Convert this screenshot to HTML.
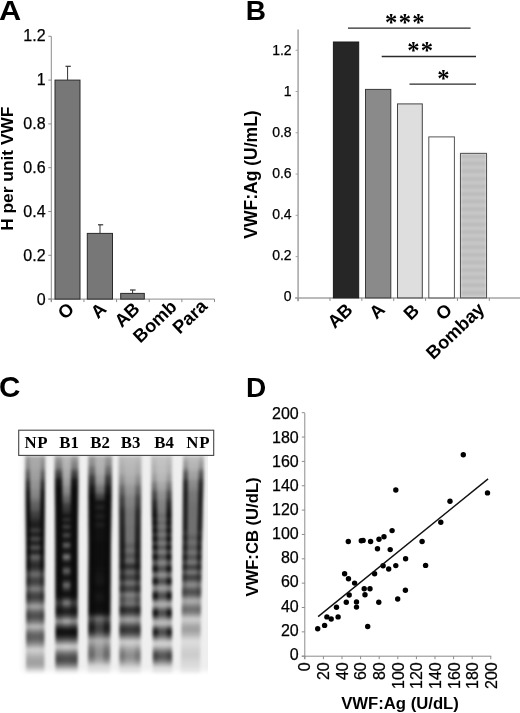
<!DOCTYPE html>
<html><head><meta charset="utf-8"><title>Figure</title>
<style>html,body{margin:0;padding:0;background:#fff}body{width:520px;height:713px;overflow:hidden;font-family:"Liberation Sans",sans-serif}svg{display:block;will-change:transform}</style>
</head><body>
<svg width="520" height="713" viewBox="0 0 520 713">
<rect width="520" height="713" fill="#fff"/>
<text x="-0.9" y="19.8" font-family="Liberation Sans, sans-serif" font-size="28" font-weight="bold" textLength="22.2" lengthAdjust="spacingAndGlyphs" fill="#000" >A</text>
<text x="245.7" y="19.8" font-family="Liberation Sans, sans-serif" font-size="28" font-weight="bold" fill="#000" >B</text>
<text x="-1.0" y="396.9" font-family="Liberation Sans, sans-serif" font-size="29.6" font-weight="bold" fill="#000" >C</text>
<text x="245.9" y="396.7" font-family="Liberation Sans, sans-serif" font-size="28" font-weight="bold" fill="#000" >D</text>
<line x1="51.3" y1="36.3" x2="51.3" y2="302.1" stroke="#8c8c8c" stroke-width="1" />
<line x1="48.3" y1="299.1" x2="214.5" y2="299.1" stroke="#8c8c8c" stroke-width="1" />
<line x1="48.3" y1="299.1" x2="51.3" y2="299.1" stroke="#8c8c8c" stroke-width="1" />
<text x="45.6" y="305.1" font-family="Liberation Sans, sans-serif" font-size="16" text-anchor="end" fill="#000" stroke="#000" stroke-width="0.25">0</text>
<line x1="48.3" y1="255.3" x2="51.3" y2="255.3" stroke="#8c8c8c" stroke-width="1" />
<text x="45.6" y="261.0" font-family="Liberation Sans, sans-serif" font-size="16" text-anchor="end" fill="#000" stroke="#000" stroke-width="0.25">0.2</text>
<line x1="48.3" y1="211.5" x2="51.3" y2="211.5" stroke="#8c8c8c" stroke-width="1" />
<text x="45.6" y="216.9" font-family="Liberation Sans, sans-serif" font-size="16" text-anchor="end" fill="#000" stroke="#000" stroke-width="0.25">0.4</text>
<line x1="48.3" y1="167.70000000000002" x2="51.3" y2="167.70000000000002" stroke="#8c8c8c" stroke-width="1" />
<text x="45.6" y="172.8" font-family="Liberation Sans, sans-serif" font-size="16" text-anchor="end" fill="#000" stroke="#000" stroke-width="0.25">0.6</text>
<line x1="48.3" y1="123.9" x2="51.3" y2="123.9" stroke="#8c8c8c" stroke-width="1" />
<text x="45.6" y="128.7" font-family="Liberation Sans, sans-serif" font-size="16" text-anchor="end" fill="#000" stroke="#000" stroke-width="0.25">0.8</text>
<line x1="48.3" y1="80.1" x2="51.3" y2="80.1" stroke="#8c8c8c" stroke-width="1" />
<text x="45.6" y="84.6" font-family="Liberation Sans, sans-serif" font-size="16" text-anchor="end" fill="#000" stroke="#000" stroke-width="0.25">1</text>
<line x1="48.3" y1="36.30000000000001" x2="51.3" y2="36.30000000000001" stroke="#8c8c8c" stroke-width="1" />
<text x="45.6" y="40.5" font-family="Liberation Sans, sans-serif" font-size="16" text-anchor="end" fill="#000" stroke="#000" stroke-width="0.25">1.2</text>
<line x1="51.3" y1="299.1" x2="51.3" y2="302.1" stroke="#8c8c8c" stroke-width="1" />
<line x1="83.94" y1="299.1" x2="83.94" y2="302.1" stroke="#8c8c8c" stroke-width="1" />
<line x1="116.58" y1="299.1" x2="116.58" y2="302.1" stroke="#8c8c8c" stroke-width="1" />
<line x1="149.22" y1="299.1" x2="149.22" y2="302.1" stroke="#8c8c8c" stroke-width="1" />
<line x1="181.86" y1="299.1" x2="181.86" y2="302.1" stroke="#8c8c8c" stroke-width="1" />
<line x1="214.5" y1="299.1" x2="214.5" y2="302.1" stroke="#8c8c8c" stroke-width="1" />
<rect x="55" y="80.1" width="25" height="219.0" fill="#777" stroke="#2a2a2a" stroke-width="1" />
<rect x="87.3" y="233.4" width="25.200000000000003" height="65.7" fill="#777" stroke="#2a2a2a" stroke-width="1" />
<rect x="120.7" y="293.4" width="23.60000000000001" height="5.7" fill="#777" stroke="#2a2a2a" stroke-width="1" />
<line x1="67.6" y1="80" x2="67.6" y2="66.3" stroke="#333" stroke-width="1" />
<line x1="65.5" y1="66.3" x2="70.8" y2="66.3" stroke="#333" stroke-width="1.2" />
<line x1="100" y1="233.5" x2="100" y2="224.8" stroke="#333" stroke-width="1" />
<line x1="98" y1="224.8" x2="103.2" y2="224.8" stroke="#333" stroke-width="1.2" />
<line x1="132.6" y1="293" x2="132.6" y2="290" stroke="#333" stroke-width="1" />
<line x1="130" y1="290" x2="135.6" y2="290" stroke="#333" stroke-width="1.2" />
<text x="75.3" y="310.5" font-family="Liberation Sans, sans-serif" font-size="18.3" font-weight="bold" text-anchor="end" transform="rotate(-43.5 75.3 310.5)" fill="#000" >O</text>
<text x="107.5" y="310.3" font-family="Liberation Sans, sans-serif" font-size="18.3" font-weight="bold" text-anchor="end" transform="rotate(-43.5 107.5 310.3)" fill="#000" >A</text>
<text x="140.8" y="310.1" font-family="Liberation Sans, sans-serif" font-size="18.3" font-weight="bold" text-anchor="end" transform="rotate(-43.5 140.8 310.1)" fill="#000" >AB</text>
<text x="177.9" y="308" font-family="Liberation Sans, sans-serif" font-size="18.3" font-weight="bold" text-anchor="end" transform="rotate(-43.5 177.9 308)" fill="#000" >Bomb</text>
<text x="208.5" y="307.5" font-family="Liberation Sans, sans-serif" font-size="18.3" font-weight="bold" text-anchor="end" transform="rotate(-43.5 208.5 307.5)" fill="#000" >Para</text>
<text x="13" y="168.7" font-family="Liberation Sans, sans-serif" font-size="17.35" font-weight="bold" text-anchor="middle" transform="rotate(-90 13 168.7)" fill="#000" >H per unit VWF</text>
<line x1="298.1" y1="29.6" x2="298.1" y2="301.29999999999995" stroke="#a4a4a4" stroke-width="1.5" />
<line x1="295.1" y1="297.9" x2="520" y2="297.9" stroke="#a4a4a4" stroke-width="1.5" />
<line x1="295.6" y1="297.9" x2="298.1" y2="297.9" stroke="#a4a4a4" stroke-width="1" />
<text x="291.6" y="301.3" font-family="Liberation Sans, sans-serif" font-size="14" text-anchor="end" fill="#000" stroke="#000" stroke-width="0.25">0</text>
<line x1="295.6" y1="256.62" x2="298.1" y2="256.62" stroke="#a4a4a4" stroke-width="1" />
<text x="291.6" y="260.2" font-family="Liberation Sans, sans-serif" font-size="14" text-anchor="end" fill="#000" stroke="#000" stroke-width="0.25">0.2</text>
<line x1="295.6" y1="215.33999999999997" x2="298.1" y2="215.33999999999997" stroke="#a4a4a4" stroke-width="1" />
<text x="291.6" y="219.1" font-family="Liberation Sans, sans-serif" font-size="14" text-anchor="end" fill="#000" stroke="#000" stroke-width="0.25">0.4</text>
<line x1="295.6" y1="174.05999999999997" x2="298.1" y2="174.05999999999997" stroke="#a4a4a4" stroke-width="1" />
<text x="291.6" y="178.1" font-family="Liberation Sans, sans-serif" font-size="14" text-anchor="end" fill="#000" stroke="#000" stroke-width="0.25">0.6</text>
<line x1="295.6" y1="132.77999999999997" x2="298.1" y2="132.77999999999997" stroke="#a4a4a4" stroke-width="1" />
<text x="291.6" y="137.0" font-family="Liberation Sans, sans-serif" font-size="14" text-anchor="end" fill="#000" stroke="#000" stroke-width="0.25">0.8</text>
<line x1="295.6" y1="91.49999999999997" x2="298.1" y2="91.49999999999997" stroke="#a4a4a4" stroke-width="1" />
<text x="291.6" y="95.9" font-family="Liberation Sans, sans-serif" font-size="14" text-anchor="end" fill="#000" stroke="#000" stroke-width="0.25">1</text>
<line x1="295.6" y1="50.21999999999997" x2="298.1" y2="50.21999999999997" stroke="#a4a4a4" stroke-width="1" />
<text x="291.6" y="54.8" font-family="Liberation Sans, sans-serif" font-size="14" text-anchor="end" fill="#000" stroke="#000" stroke-width="0.25">1.2</text>
<line x1="298.1" y1="297.9" x2="298.1" y2="300.9" stroke="#8c8c8c" stroke-width="1" />
<line x1="329.97" y1="297.9" x2="329.97" y2="300.9" stroke="#8c8c8c" stroke-width="1" />
<line x1="361.84000000000003" y1="297.9" x2="361.84000000000003" y2="300.9" stroke="#8c8c8c" stroke-width="1" />
<line x1="393.71000000000004" y1="297.9" x2="393.71000000000004" y2="300.9" stroke="#8c8c8c" stroke-width="1" />
<line x1="425.58000000000004" y1="297.9" x2="425.58000000000004" y2="300.9" stroke="#8c8c8c" stroke-width="1" />
<line x1="457.45000000000005" y1="297.9" x2="457.45000000000005" y2="300.9" stroke="#8c8c8c" stroke-width="1" />
<line x1="489.32000000000005" y1="297.9" x2="489.32000000000005" y2="300.9" stroke="#8c8c8c" stroke-width="1" />
<defs><pattern id="st" width="8" height="7.6" patternUnits="userSpaceOnUse" y="2"><rect width="8" height="8" fill="#c8c8c8"/><rect y="0" width="8" height="4" fill="#bcbcbc"/></pattern><filter id="b1" x="-20%" y="-20%" width="140%" height="140%"><feGaussianBlur stdDeviation="1"/></filter></defs>
<rect x="333.4" y="42.0" width="25.30000000000001" height="255.9" fill="#262626" stroke="#1a1a1a" stroke-width="1" />
<rect x="365.5" y="89.4" width="25.30000000000001" height="208.5" fill="#8a8a8a" stroke="#3a3a3a" stroke-width="1" />
<rect x="397.5" y="103.9" width="24.80000000000001" height="194.0" fill="#dedede" stroke="#444" stroke-width="1" />
<rect x="428.8" y="136.9" width="25.599999999999966" height="161.0" fill="#ffffff" stroke="#555" stroke-width="1" />
<g><rect x="460.5" y="153.4" width="26" height="144.5" fill="url(#st)" filter="url(#b1)"/><rect x="460.5" y="153.4" width="26" height="144.5" fill="none" stroke="#555" stroke-width="1"/></g>
<line x1="348" y1="28.2" x2="470.6" y2="28.2" stroke="#2a2a2a" stroke-width="1.3" />
<line x1="381.7" y1="56.5" x2="476" y2="56.5" stroke="#2a2a2a" stroke-width="1.3" />
<line x1="409.5" y1="84.2" x2="476" y2="84.2" stroke="#2a2a2a" stroke-width="1.3" />
<text x="391.1" y="30.6" font-family="Liberation Serif, serif" font-size="24.6" font-weight="bold" text-anchor="middle" fill="#000" >*</text>
<text x="404.9" y="30.6" font-family="Liberation Serif, serif" font-size="24.6" font-weight="bold" text-anchor="middle" fill="#000" >*</text>
<text x="418.5" y="30.6" font-family="Liberation Serif, serif" font-size="24.6" font-weight="bold" text-anchor="middle" fill="#000" >*</text>
<text x="413.5" y="58.8" font-family="Liberation Serif, serif" font-size="24.6" font-weight="bold" text-anchor="middle" fill="#000" >*</text>
<text x="426.9" y="58.8" font-family="Liberation Serif, serif" font-size="24.6" font-weight="bold" text-anchor="middle" fill="#000" >*</text>
<text x="443.4" y="86.5" font-family="Liberation Serif, serif" font-size="24.6" font-weight="bold" text-anchor="middle" fill="#000" >*</text>
<text x="353.8" y="311.1" font-family="Liberation Sans, sans-serif" font-size="18.3" font-weight="bold" text-anchor="end" transform="rotate(-43.5 353.8 311.1)" fill="#000" >AB</text>
<text x="386.1" y="311" font-family="Liberation Sans, sans-serif" font-size="18.3" font-weight="bold" text-anchor="end" transform="rotate(-43.5 386.1 311)" fill="#000" >A</text>
<text x="420.4" y="312" font-family="Liberation Sans, sans-serif" font-size="18.3" font-weight="bold" text-anchor="end" transform="rotate(-43.5 420.4 312)" fill="#000" >B</text>
<text x="453.3" y="311.5" font-family="Liberation Sans, sans-serif" font-size="18.3" font-weight="bold" text-anchor="end" transform="rotate(-43.5 453.3 311.5)" fill="#000" >O</text>
<text x="485.7" y="310.5" font-family="Liberation Sans, sans-serif" font-size="18.3" font-weight="bold" text-anchor="end" transform="rotate(-43.5 485.7 310.5)" fill="#000" >Bombay</text>
<text x="256.5" y="174.5" font-family="Liberation Sans, sans-serif" font-size="17.5" font-weight="bold" text-anchor="middle" transform="rotate(-90 256.5 174.5)" fill="#000" >VWF:Ag (U/mL)</text>
<line x1="304.8" y1="413.1" x2="304.8" y2="659.2" stroke="#8c8c8c" stroke-width="1" />
<line x1="301.8" y1="656.2" x2="491.2" y2="656.2" stroke="#8c8c8c" stroke-width="1" />
<line x1="301.8" y1="656.2" x2="304.8" y2="656.2" stroke="#8c8c8c" stroke-width="1" />
<text x="298.7" y="659.8" font-family="Liberation Sans, sans-serif" font-size="16" text-anchor="end" fill="#000" stroke="#000" stroke-width="0.25">0</text>
<line x1="304.8" y1="656.2" x2="304.8" y2="659.2" stroke="#8c8c8c" stroke-width="1" />
<text x="310.5" y="662.3" font-family="Liberation Sans, sans-serif" font-size="16" text-anchor="end" transform="rotate(-90 310.5 662.3)" fill="#000" stroke="#000" stroke-width="0.25">0</text>
<line x1="301.8" y1="631.85" x2="304.8" y2="631.85" stroke="#8c8c8c" stroke-width="1" />
<text x="298.7" y="635.7" font-family="Liberation Sans, sans-serif" font-size="16" text-anchor="end" fill="#000" stroke="#000" stroke-width="0.25">20</text>
<line x1="323.40000000000003" y1="656.2" x2="323.40000000000003" y2="659.2" stroke="#8c8c8c" stroke-width="1" />
<text x="329.1" y="662.3" font-family="Liberation Sans, sans-serif" font-size="16" text-anchor="end" transform="rotate(-90 329.1 662.3)" fill="#000" stroke="#000" stroke-width="0.25">20</text>
<line x1="301.8" y1="607.5" x2="304.8" y2="607.5" stroke="#8c8c8c" stroke-width="1" />
<text x="298.7" y="611.6" font-family="Liberation Sans, sans-serif" font-size="16" text-anchor="end" fill="#000" stroke="#000" stroke-width="0.25">40</text>
<line x1="342.0" y1="656.2" x2="342.0" y2="659.2" stroke="#8c8c8c" stroke-width="1" />
<text x="347.8" y="662.3" font-family="Liberation Sans, sans-serif" font-size="16" text-anchor="end" transform="rotate(-90 347.8 662.3)" fill="#000" stroke="#000" stroke-width="0.25">40</text>
<line x1="301.8" y1="583.1500000000001" x2="304.8" y2="583.1500000000001" stroke="#8c8c8c" stroke-width="1" />
<text x="298.7" y="587.4" font-family="Liberation Sans, sans-serif" font-size="16" text-anchor="end" fill="#000" stroke="#000" stroke-width="0.25">60</text>
<line x1="360.6" y1="656.2" x2="360.6" y2="659.2" stroke="#8c8c8c" stroke-width="1" />
<text x="366.4" y="662.3" font-family="Liberation Sans, sans-serif" font-size="16" text-anchor="end" transform="rotate(-90 366.4 662.3)" fill="#000" stroke="#000" stroke-width="0.25">60</text>
<line x1="301.8" y1="558.8000000000001" x2="304.8" y2="558.8000000000001" stroke="#8c8c8c" stroke-width="1" />
<text x="298.7" y="563.3" font-family="Liberation Sans, sans-serif" font-size="16" text-anchor="end" fill="#000" stroke="#000" stroke-width="0.25">80</text>
<line x1="379.20000000000005" y1="656.2" x2="379.20000000000005" y2="659.2" stroke="#8c8c8c" stroke-width="1" />
<text x="385.1" y="662.3" font-family="Liberation Sans, sans-serif" font-size="16" text-anchor="end" transform="rotate(-90 385.1 662.3)" fill="#000" stroke="#000" stroke-width="0.25">80</text>
<line x1="301.8" y1="534.45" x2="304.8" y2="534.45" stroke="#8c8c8c" stroke-width="1" />
<text x="298.7" y="539.2" font-family="Liberation Sans, sans-serif" font-size="16" text-anchor="end" fill="#000" stroke="#000" stroke-width="0.25">100</text>
<line x1="397.8" y1="656.2" x2="397.8" y2="659.2" stroke="#8c8c8c" stroke-width="1" />
<text x="403.7" y="662.3" font-family="Liberation Sans, sans-serif" font-size="16" text-anchor="end" transform="rotate(-90 403.7 662.3)" fill="#000" stroke="#000" stroke-width="0.25">100</text>
<line x1="301.8" y1="510.1" x2="304.8" y2="510.1" stroke="#8c8c8c" stroke-width="1" />
<text x="298.7" y="515.1" font-family="Liberation Sans, sans-serif" font-size="16" text-anchor="end" fill="#000" stroke="#000" stroke-width="0.25">120</text>
<line x1="416.40000000000003" y1="656.2" x2="416.40000000000003" y2="659.2" stroke="#8c8c8c" stroke-width="1" />
<text x="422.3" y="662.3" font-family="Liberation Sans, sans-serif" font-size="16" text-anchor="end" transform="rotate(-90 422.3 662.3)" fill="#000" stroke="#000" stroke-width="0.25">120</text>
<line x1="301.8" y1="485.75" x2="304.8" y2="485.75" stroke="#8c8c8c" stroke-width="1" />
<text x="298.7" y="491.0" font-family="Liberation Sans, sans-serif" font-size="16" text-anchor="end" fill="#000" stroke="#000" stroke-width="0.25">140</text>
<line x1="435.0" y1="656.2" x2="435.0" y2="659.2" stroke="#8c8c8c" stroke-width="1" />
<text x="441.0" y="662.3" font-family="Liberation Sans, sans-serif" font-size="16" text-anchor="end" transform="rotate(-90 441.0 662.3)" fill="#000" stroke="#000" stroke-width="0.25">140</text>
<line x1="301.8" y1="461.40000000000003" x2="304.8" y2="461.40000000000003" stroke="#8c8c8c" stroke-width="1" />
<text x="298.7" y="466.8" font-family="Liberation Sans, sans-serif" font-size="16" text-anchor="end" fill="#000" stroke="#000" stroke-width="0.25">160</text>
<line x1="453.6" y1="656.2" x2="453.6" y2="659.2" stroke="#8c8c8c" stroke-width="1" />
<text x="459.6" y="662.3" font-family="Liberation Sans, sans-serif" font-size="16" text-anchor="end" transform="rotate(-90 459.6 662.3)" fill="#000" stroke="#000" stroke-width="0.25">160</text>
<line x1="301.8" y1="437.05000000000007" x2="304.8" y2="437.05000000000007" stroke="#8c8c8c" stroke-width="1" />
<text x="298.7" y="442.7" font-family="Liberation Sans, sans-serif" font-size="16" text-anchor="end" fill="#000" stroke="#000" stroke-width="0.25">180</text>
<line x1="472.20000000000005" y1="656.2" x2="472.20000000000005" y2="659.2" stroke="#8c8c8c" stroke-width="1" />
<text x="478.3" y="662.3" font-family="Liberation Sans, sans-serif" font-size="16" text-anchor="end" transform="rotate(-90 478.3 662.3)" fill="#000" stroke="#000" stroke-width="0.25">180</text>
<line x1="301.8" y1="412.70000000000005" x2="304.8" y2="412.70000000000005" stroke="#8c8c8c" stroke-width="1" />
<text x="298.7" y="418.6" font-family="Liberation Sans, sans-serif" font-size="16" text-anchor="end" fill="#000" stroke="#000" stroke-width="0.25">200</text>
<line x1="490.8" y1="656.2" x2="490.8" y2="659.2" stroke="#8c8c8c" stroke-width="1" />
<text x="496.9" y="662.3" font-family="Liberation Sans, sans-serif" font-size="16" text-anchor="end" transform="rotate(-90 496.9 662.3)" fill="#000" stroke="#000" stroke-width="0.25">200</text>
<text x="400" y="708.8" font-family="Liberation Sans, sans-serif" font-size="16.7" font-weight="bold" text-anchor="middle" fill="#000" >VWF:Ag (U/dL)</text>
<text x="258.2" y="537" font-family="Liberation Sans, sans-serif" font-size="16.65" font-weight="bold" text-anchor="middle" transform="rotate(-90 258.2 537)" fill="#000" >VWF:CB (U/dL)</text>
<circle cx="317.7" cy="628.7" r="2.7" fill="#000"/>
<circle cx="324.6" cy="625.4" r="2.7" fill="#000"/>
<circle cx="326.9" cy="616.9" r="2.7" fill="#000"/>
<circle cx="331.2" cy="619" r="2.7" fill="#000"/>
<circle cx="338.1" cy="616.9" r="2.7" fill="#000"/>
<circle cx="336.5" cy="607.3" r="2.7" fill="#000"/>
<circle cx="346.3" cy="602.3" r="2.7" fill="#000"/>
<circle cx="349.2" cy="595" r="2.7" fill="#000"/>
<circle cx="356.5" cy="601.9" r="2.7" fill="#000"/>
<circle cx="356.5" cy="607.1" r="2.7" fill="#000"/>
<circle cx="344.6" cy="573.8" r="2.7" fill="#000"/>
<circle cx="348.5" cy="578.7" r="2.7" fill="#000"/>
<circle cx="354.6" cy="583.1" r="2.7" fill="#000"/>
<circle cx="364.2" cy="588.7" r="2.7" fill="#000"/>
<circle cx="370" cy="588.7" r="2.7" fill="#000"/>
<circle cx="365" cy="594.8" r="2.7" fill="#000"/>
<circle cx="367.7" cy="626.5" r="2.7" fill="#000"/>
<circle cx="374.6" cy="573.8" r="2.7" fill="#000"/>
<circle cx="378.8" cy="602.3" r="2.7" fill="#000"/>
<circle cx="383.1" cy="565.8" r="2.7" fill="#000"/>
<circle cx="388.7" cy="569" r="2.7" fill="#000"/>
<circle cx="395.8" cy="565.6" r="2.7" fill="#000"/>
<circle cx="397.7" cy="599" r="2.7" fill="#000"/>
<circle cx="348.3" cy="541.5" r="2.7" fill="#000"/>
<circle cx="361.3" cy="540.8" r="2.7" fill="#000"/>
<circle cx="363.1" cy="540.4" r="2.7" fill="#000"/>
<circle cx="370.6" cy="541.5" r="2.7" fill="#000"/>
<circle cx="379" cy="539.2" r="2.7" fill="#000"/>
<circle cx="384" cy="536.7" r="2.7" fill="#000"/>
<circle cx="392.1" cy="530.6" r="2.7" fill="#000"/>
<circle cx="395.8" cy="490" r="2.7" fill="#000"/>
<circle cx="377.5" cy="548.8" r="2.7" fill="#000"/>
<circle cx="390.2" cy="549.6" r="2.7" fill="#000"/>
<circle cx="405.6" cy="558.7" r="2.7" fill="#000"/>
<circle cx="422.1" cy="541.5" r="2.7" fill="#000"/>
<circle cx="425.6" cy="565.4" r="2.7" fill="#000"/>
<circle cx="463.3" cy="454.8" r="2.7" fill="#000"/>
<circle cx="487.5" cy="492.9" r="2.7" fill="#000"/>
<circle cx="450" cy="501.3" r="2.7" fill="#000"/>
<circle cx="440.8" cy="522.3" r="2.7" fill="#000"/>
<circle cx="405.4" cy="590.2" r="2.7" fill="#000"/>
<line x1="318.1" y1="616.6" x2="488.1" y2="478.9" stroke="#111" stroke-width="1.4" />
<defs><filter id="gb" x="-5%" y="-5%" width="110%" height="110%"><feGaussianBlur stdDeviation="1.6 1.4"/></filter><filter id="gbg" x="-5%" y="-5%" width="110%" height="110%"><feGaussianBlur stdDeviation="2.5"/></filter><clipPath id="gclip"><rect x="14" y="455.5" width="194" height="225"/></clipPath><linearGradient id="cNP1" gradientUnits="userSpaceOnUse" x1="0" y1="456" x2="0" y2="673"><stop offset="0.0000" stop-color="#000" stop-opacity="0.28"/><stop offset="0.0069" stop-color="#000" stop-opacity="0.28"/><stop offset="0.0139" stop-color="#000" stop-opacity="0.29"/><stop offset="0.0208" stop-color="#000" stop-opacity="0.29"/><stop offset="0.0278" stop-color="#000" stop-opacity="0.30"/><stop offset="0.0347" stop-color="#000" stop-opacity="0.30"/><stop offset="0.0417" stop-color="#000" stop-opacity="0.30"/><stop offset="0.0486" stop-color="#000" stop-opacity="0.30"/><stop offset="0.0556" stop-color="#000" stop-opacity="0.31"/><stop offset="0.0625" stop-color="#000" stop-opacity="0.31"/><stop offset="0.0694" stop-color="#000" stop-opacity="0.32"/><stop offset="0.0764" stop-color="#000" stop-opacity="0.33"/><stop offset="0.0833" stop-color="#000" stop-opacity="0.33"/><stop offset="0.0903" stop-color="#000" stop-opacity="0.33"/><stop offset="0.0972" stop-color="#000" stop-opacity="0.34"/><stop offset="0.1042" stop-color="#000" stop-opacity="0.34"/><stop offset="0.1111" stop-color="#000" stop-opacity="0.36"/><stop offset="0.1181" stop-color="#000" stop-opacity="0.37"/><stop offset="0.1250" stop-color="#000" stop-opacity="0.38"/><stop offset="0.1319" stop-color="#000" stop-opacity="0.38"/><stop offset="0.1389" stop-color="#000" stop-opacity="0.38"/><stop offset="0.1458" stop-color="#000" stop-opacity="0.39"/><stop offset="0.1528" stop-color="#000" stop-opacity="0.41"/><stop offset="0.1597" stop-color="#000" stop-opacity="0.42"/><stop offset="0.1667" stop-color="#000" stop-opacity="0.43"/><stop offset="0.1736" stop-color="#000" stop-opacity="0.44"/><stop offset="0.1806" stop-color="#000" stop-opacity="0.44"/><stop offset="0.1875" stop-color="#000" stop-opacity="0.46"/><stop offset="0.1944" stop-color="#000" stop-opacity="0.48"/><stop offset="0.2014" stop-color="#000" stop-opacity="0.51"/><stop offset="0.2083" stop-color="#000" stop-opacity="0.54"/><stop offset="0.2153" stop-color="#000" stop-opacity="0.57"/><stop offset="0.2222" stop-color="#000" stop-opacity="0.59"/><stop offset="0.2292" stop-color="#000" stop-opacity="0.60"/><stop offset="0.2361" stop-color="#000" stop-opacity="0.61"/><stop offset="0.2431" stop-color="#000" stop-opacity="0.62"/><stop offset="0.2500" stop-color="#000" stop-opacity="0.65"/><stop offset="0.2569" stop-color="#000" stop-opacity="0.69"/><stop offset="0.2639" stop-color="#000" stop-opacity="0.72"/><stop offset="0.2708" stop-color="#000" stop-opacity="0.74"/><stop offset="0.2778" stop-color="#000" stop-opacity="0.74"/><stop offset="0.2847" stop-color="#000" stop-opacity="0.77"/><stop offset="0.2917" stop-color="#000" stop-opacity="0.80"/><stop offset="0.2986" stop-color="#000" stop-opacity="0.83"/><stop offset="0.3056" stop-color="#000" stop-opacity="0.85"/><stop offset="0.3125" stop-color="#000" stop-opacity="0.87"/><stop offset="0.3194" stop-color="#000" stop-opacity="0.88"/><stop offset="0.3264" stop-color="#000" stop-opacity="0.87"/><stop offset="0.3333" stop-color="#000" stop-opacity="0.81"/><stop offset="0.3403" stop-color="#000" stop-opacity="0.72"/><stop offset="0.3472" stop-color="#000" stop-opacity="0.75"/><stop offset="0.3542" stop-color="#000" stop-opacity="0.84"/><stop offset="0.3611" stop-color="#000" stop-opacity="0.88"/><stop offset="0.3681" stop-color="#000" stop-opacity="0.85"/><stop offset="0.3750" stop-color="#000" stop-opacity="0.75"/><stop offset="0.3819" stop-color="#000" stop-opacity="0.65"/><stop offset="0.3889" stop-color="#000" stop-opacity="0.75"/><stop offset="0.3958" stop-color="#000" stop-opacity="0.84"/><stop offset="0.4028" stop-color="#000" stop-opacity="0.87"/><stop offset="0.4097" stop-color="#000" stop-opacity="0.81"/><stop offset="0.4167" stop-color="#000" stop-opacity="0.68"/><stop offset="0.4236" stop-color="#000" stop-opacity="0.62"/><stop offset="0.4306" stop-color="#000" stop-opacity="0.74"/><stop offset="0.4375" stop-color="#000" stop-opacity="0.84"/><stop offset="0.4444" stop-color="#000" stop-opacity="0.86"/><stop offset="0.4514" stop-color="#000" stop-opacity="0.78"/><stop offset="0.4583" stop-color="#000" stop-opacity="0.65"/><stop offset="0.4653" stop-color="#000" stop-opacity="0.56"/><stop offset="0.4722" stop-color="#000" stop-opacity="0.61"/><stop offset="0.4792" stop-color="#000" stop-opacity="0.68"/><stop offset="0.4861" stop-color="#000" stop-opacity="0.74"/><stop offset="0.4931" stop-color="#000" stop-opacity="0.79"/><stop offset="0.5000" stop-color="#000" stop-opacity="0.81"/><stop offset="0.5069" stop-color="#000" stop-opacity="0.82"/><stop offset="0.5139" stop-color="#000" stop-opacity="0.80"/><stop offset="0.5208" stop-color="#000" stop-opacity="0.75"/><stop offset="0.5278" stop-color="#000" stop-opacity="0.69"/><stop offset="0.5347" stop-color="#000" stop-opacity="0.61"/><stop offset="0.5417" stop-color="#000" stop-opacity="0.55"/><stop offset="0.5486" stop-color="#000" stop-opacity="0.54"/><stop offset="0.5556" stop-color="#000" stop-opacity="0.61"/><stop offset="0.5625" stop-color="#000" stop-opacity="0.67"/><stop offset="0.5694" stop-color="#000" stop-opacity="0.71"/><stop offset="0.5764" stop-color="#000" stop-opacity="0.73"/><stop offset="0.5833" stop-color="#000" stop-opacity="0.72"/><stop offset="0.5903" stop-color="#000" stop-opacity="0.67"/><stop offset="0.5972" stop-color="#000" stop-opacity="0.61"/><stop offset="0.6042" stop-color="#000" stop-opacity="0.53"/><stop offset="0.6111" stop-color="#000" stop-opacity="0.46"/><stop offset="0.6181" stop-color="#000" stop-opacity="0.50"/><stop offset="0.6250" stop-color="#000" stop-opacity="0.58"/><stop offset="0.6319" stop-color="#000" stop-opacity="0.65"/><stop offset="0.6389" stop-color="#000" stop-opacity="0.70"/><stop offset="0.6458" stop-color="#000" stop-opacity="0.73"/><stop offset="0.6528" stop-color="#000" stop-opacity="0.72"/><stop offset="0.6597" stop-color="#000" stop-opacity="0.69"/><stop offset="0.6667" stop-color="#000" stop-opacity="0.63"/><stop offset="0.6736" stop-color="#000" stop-opacity="0.55"/><stop offset="0.6806" stop-color="#000" stop-opacity="0.46"/><stop offset="0.6875" stop-color="#000" stop-opacity="0.37"/><stop offset="0.6944" stop-color="#000" stop-opacity="0.31"/><stop offset="0.7014" stop-color="#000" stop-opacity="0.38"/><stop offset="0.7083" stop-color="#000" stop-opacity="0.46"/><stop offset="0.7153" stop-color="#000" stop-opacity="0.54"/><stop offset="0.7222" stop-color="#000" stop-opacity="0.61"/><stop offset="0.7292" stop-color="#000" stop-opacity="0.65"/><stop offset="0.7361" stop-color="#000" stop-opacity="0.67"/><stop offset="0.7431" stop-color="#000" stop-opacity="0.66"/><stop offset="0.7500" stop-color="#000" stop-opacity="0.62"/><stop offset="0.7569" stop-color="#000" stop-opacity="0.56"/><stop offset="0.7639" stop-color="#000" stop-opacity="0.49"/><stop offset="0.7708" stop-color="#000" stop-opacity="0.40"/><stop offset="0.7778" stop-color="#000" stop-opacity="0.31"/><stop offset="0.7847" stop-color="#000" stop-opacity="0.23"/><stop offset="0.7917" stop-color="#000" stop-opacity="0.26"/><stop offset="0.7986" stop-color="#000" stop-opacity="0.34"/><stop offset="0.8056" stop-color="#000" stop-opacity="0.42"/><stop offset="0.8125" stop-color="#000" stop-opacity="0.50"/><stop offset="0.8194" stop-color="#000" stop-opacity="0.55"/><stop offset="0.8264" stop-color="#000" stop-opacity="0.59"/><stop offset="0.8333" stop-color="#000" stop-opacity="0.60"/><stop offset="0.8403" stop-color="#000" stop-opacity="0.59"/><stop offset="0.8472" stop-color="#000" stop-opacity="0.56"/><stop offset="0.8542" stop-color="#000" stop-opacity="0.51"/><stop offset="0.8611" stop-color="#000" stop-opacity="0.45"/><stop offset="0.8681" stop-color="#000" stop-opacity="0.38"/><stop offset="0.8750" stop-color="#000" stop-opacity="0.30"/><stop offset="0.8819" stop-color="#000" stop-opacity="0.22"/><stop offset="0.8889" stop-color="#000" stop-opacity="0.15"/><stop offset="0.8958" stop-color="#000" stop-opacity="0.13"/><stop offset="0.9028" stop-color="#000" stop-opacity="0.16"/><stop offset="0.9097" stop-color="#000" stop-opacity="0.19"/><stop offset="0.9167" stop-color="#000" stop-opacity="0.23"/><stop offset="0.9236" stop-color="#000" stop-opacity="0.26"/><stop offset="0.9306" stop-color="#000" stop-opacity="0.29"/><stop offset="0.9375" stop-color="#000" stop-opacity="0.31"/><stop offset="0.9444" stop-color="#000" stop-opacity="0.32"/><stop offset="0.9514" stop-color="#000" stop-opacity="0.33"/><stop offset="0.9583" stop-color="#000" stop-opacity="0.32"/><stop offset="0.9653" stop-color="#000" stop-opacity="0.30"/><stop offset="0.9722" stop-color="#000" stop-opacity="0.25"/><stop offset="0.9792" stop-color="#000" stop-opacity="0.19"/><stop offset="0.9861" stop-color="#000" stop-opacity="0.13"/><stop offset="0.9931" stop-color="#000" stop-opacity="0.07"/><stop offset="1.0000" stop-color="#000" stop-opacity="0.06"/></linearGradient><linearGradient id="eNP1" gradientUnits="userSpaceOnUse" x1="0" y1="456" x2="0" y2="673"><stop offset="0.0000" stop-color="#000" stop-opacity="0.08"/><stop offset="0.0069" stop-color="#000" stop-opacity="0.09"/><stop offset="0.0139" stop-color="#000" stop-opacity="0.11"/><stop offset="0.0208" stop-color="#000" stop-opacity="0.13"/><stop offset="0.0278" stop-color="#000" stop-opacity="0.15"/><stop offset="0.0347" stop-color="#000" stop-opacity="0.17"/><stop offset="0.0417" stop-color="#000" stop-opacity="0.17"/><stop offset="0.0486" stop-color="#000" stop-opacity="0.19"/><stop offset="0.0556" stop-color="#000" stop-opacity="0.23"/><stop offset="0.0625" stop-color="#000" stop-opacity="0.28"/><stop offset="0.0694" stop-color="#000" stop-opacity="0.34"/><stop offset="0.0764" stop-color="#000" stop-opacity="0.40"/><stop offset="0.0833" stop-color="#000" stop-opacity="0.43"/><stop offset="0.0903" stop-color="#000" stop-opacity="0.44"/><stop offset="0.0972" stop-color="#000" stop-opacity="0.46"/><stop offset="0.1042" stop-color="#000" stop-opacity="0.51"/><stop offset="0.1111" stop-color="#000" stop-opacity="0.57"/><stop offset="0.1181" stop-color="#000" stop-opacity="0.63"/><stop offset="0.1250" stop-color="#000" stop-opacity="0.68"/><stop offset="0.1319" stop-color="#000" stop-opacity="0.71"/><stop offset="0.1389" stop-color="#000" stop-opacity="0.71"/><stop offset="0.1458" stop-color="#000" stop-opacity="0.74"/><stop offset="0.1528" stop-color="#000" stop-opacity="0.77"/><stop offset="0.1597" stop-color="#000" stop-opacity="0.81"/><stop offset="0.1667" stop-color="#000" stop-opacity="0.84"/><stop offset="0.1736" stop-color="#000" stop-opacity="0.86"/><stop offset="0.1806" stop-color="#000" stop-opacity="0.86"/><stop offset="0.1875" stop-color="#000" stop-opacity="0.86"/><stop offset="0.1944" stop-color="#000" stop-opacity="0.86"/><stop offset="0.2014" stop-color="#000" stop-opacity="0.86"/><stop offset="0.2083" stop-color="#000" stop-opacity="0.87"/><stop offset="0.2153" stop-color="#000" stop-opacity="0.87"/><stop offset="0.2222" stop-color="#000" stop-opacity="0.87"/><stop offset="0.2292" stop-color="#000" stop-opacity="0.87"/><stop offset="0.2361" stop-color="#000" stop-opacity="0.87"/><stop offset="0.2431" stop-color="#000" stop-opacity="0.87"/><stop offset="0.2500" stop-color="#000" stop-opacity="0.86"/><stop offset="0.2569" stop-color="#000" stop-opacity="0.84"/><stop offset="0.2639" stop-color="#000" stop-opacity="0.82"/><stop offset="0.2708" stop-color="#000" stop-opacity="0.81"/><stop offset="0.2778" stop-color="#000" stop-opacity="0.81"/><stop offset="0.2847" stop-color="#000" stop-opacity="0.78"/><stop offset="0.2917" stop-color="#000" stop-opacity="0.75"/><stop offset="0.2986" stop-color="#000" stop-opacity="0.71"/><stop offset="0.3056" stop-color="#000" stop-opacity="0.66"/><stop offset="0.3125" stop-color="#000" stop-opacity="0.62"/><stop offset="0.3194" stop-color="#000" stop-opacity="0.59"/><stop offset="0.3264" stop-color="#000" stop-opacity="0.61"/><stop offset="0.3333" stop-color="#000" stop-opacity="0.70"/><stop offset="0.3403" stop-color="#000" stop-opacity="0.76"/><stop offset="0.3472" stop-color="#000" stop-opacity="0.74"/><stop offset="0.3542" stop-color="#000" stop-opacity="0.67"/><stop offset="0.3611" stop-color="#000" stop-opacity="0.59"/><stop offset="0.3681" stop-color="#000" stop-opacity="0.64"/><stop offset="0.3750" stop-color="#000" stop-opacity="0.73"/><stop offset="0.3819" stop-color="#000" stop-opacity="0.77"/><stop offset="0.3889" stop-color="#000" stop-opacity="0.74"/><stop offset="0.3958" stop-color="#000" stop-opacity="0.66"/><stop offset="0.4028" stop-color="#000" stop-opacity="0.62"/><stop offset="0.4097" stop-color="#000" stop-opacity="0.68"/><stop offset="0.4167" stop-color="#000" stop-opacity="0.73"/><stop offset="0.4236" stop-color="#000" stop-opacity="0.75"/><stop offset="0.4306" stop-color="#000" stop-opacity="0.72"/><stop offset="0.4375" stop-color="#000" stop-opacity="0.67"/><stop offset="0.4444" stop-color="#000" stop-opacity="0.65"/><stop offset="0.4514" stop-color="#000" stop-opacity="0.69"/><stop offset="0.4583" stop-color="#000" stop-opacity="0.72"/><stop offset="0.4653" stop-color="#000" stop-opacity="0.73"/><stop offset="0.4722" stop-color="#000" stop-opacity="0.72"/><stop offset="0.4792" stop-color="#000" stop-opacity="0.70"/><stop offset="0.4861" stop-color="#000" stop-opacity="0.67"/><stop offset="0.4931" stop-color="#000" stop-opacity="0.64"/><stop offset="0.5000" stop-color="#000" stop-opacity="0.62"/><stop offset="0.5069" stop-color="#000" stop-opacity="0.61"/><stop offset="0.5139" stop-color="#000" stop-opacity="0.57"/><stop offset="0.5208" stop-color="#000" stop-opacity="0.51"/><stop offset="0.5278" stop-color="#000" stop-opacity="0.45"/><stop offset="0.5347" stop-color="#000" stop-opacity="0.41"/><stop offset="0.5417" stop-color="#000" stop-opacity="0.38"/><stop offset="0.5486" stop-color="#000" stop-opacity="0.37"/><stop offset="0.5556" stop-color="#000" stop-opacity="0.36"/><stop offset="0.5625" stop-color="#000" stop-opacity="0.35"/><stop offset="0.5694" stop-color="#000" stop-opacity="0.34"/><stop offset="0.5764" stop-color="#000" stop-opacity="0.33"/><stop offset="0.5833" stop-color="#000" stop-opacity="0.32"/><stop offset="0.5903" stop-color="#000" stop-opacity="0.30"/><stop offset="0.5972" stop-color="#000" stop-opacity="0.27"/><stop offset="0.6042" stop-color="#000" stop-opacity="0.25"/><stop offset="0.6111" stop-color="#000" stop-opacity="0.24"/><stop offset="0.6181" stop-color="#000" stop-opacity="0.24"/><stop offset="0.6250" stop-color="#000" stop-opacity="0.24"/><stop offset="0.6319" stop-color="#000" stop-opacity="0.25"/><stop offset="0.6389" stop-color="#000" stop-opacity="0.26"/><stop offset="0.6458" stop-color="#000" stop-opacity="0.26"/><stop offset="0.6528" stop-color="#000" stop-opacity="0.25"/><stop offset="0.6597" stop-color="#000" stop-opacity="0.22"/><stop offset="0.6667" stop-color="#000" stop-opacity="0.19"/><stop offset="0.6736" stop-color="#000" stop-opacity="0.16"/><stop offset="0.6806" stop-color="#000" stop-opacity="0.13"/><stop offset="0.6875" stop-color="#000" stop-opacity="0.11"/><stop offset="0.6944" stop-color="#000" stop-opacity="0.10"/><stop offset="0.7014" stop-color="#000" stop-opacity="0.11"/><stop offset="0.7083" stop-color="#000" stop-opacity="0.11"/><stop offset="0.7153" stop-color="#000" stop-opacity="0.12"/><stop offset="0.7222" stop-color="#000" stop-opacity="0.14"/><stop offset="0.7292" stop-color="#000" stop-opacity="0.15"/><stop offset="0.7361" stop-color="#000" stop-opacity="0.15"/><stop offset="0.7431" stop-color="#000" stop-opacity="0.15"/><stop offset="0.7500" stop-color="#000" stop-opacity="0.13"/><stop offset="0.7569" stop-color="#000" stop-opacity="0.11"/><stop offset="0.7639" stop-color="#000" stop-opacity="0.09"/><stop offset="0.7708" stop-color="#000" stop-opacity="0.07"/><stop offset="0.7778" stop-color="#000" stop-opacity="0.06"/><stop offset="0.7847" stop-color="#000" stop-opacity="0.05"/><stop offset="0.7917" stop-color="#000" stop-opacity="0.05"/><stop offset="0.7986" stop-color="#000" stop-opacity="0.06"/><stop offset="0.8056" stop-color="#000" stop-opacity="0.06"/><stop offset="0.8125" stop-color="#000" stop-opacity="0.06"/><stop offset="0.8194" stop-color="#000" stop-opacity="0.07"/><stop offset="0.8264" stop-color="#000" stop-opacity="0.07"/><stop offset="0.8333" stop-color="#000" stop-opacity="0.07"/><stop offset="0.8403" stop-color="#000" stop-opacity="0.07"/><stop offset="0.8472" stop-color="#000" stop-opacity="0.07"/><stop offset="0.8542" stop-color="#000" stop-opacity="0.06"/><stop offset="0.8611" stop-color="#000" stop-opacity="0.05"/><stop offset="0.8681" stop-color="#000" stop-opacity="0.04"/><stop offset="0.8750" stop-color="#000" stop-opacity="0.03"/><stop offset="0.8819" stop-color="#000" stop-opacity="0.03"/><stop offset="0.8889" stop-color="#000" stop-opacity="0.02"/><stop offset="0.8958" stop-color="#000" stop-opacity="0.02"/><stop offset="0.9028" stop-color="#000" stop-opacity="0.02"/><stop offset="0.9097" stop-color="#000" stop-opacity="0.02"/><stop offset="0.9167" stop-color="#000" stop-opacity="0.01"/><stop offset="0.9236" stop-color="#000" stop-opacity="0.01"/><stop offset="0.9306" stop-color="#000" stop-opacity="0.01"/><stop offset="0.9375" stop-color="#000" stop-opacity="0.00"/><stop offset="0.9444" stop-color="#000" stop-opacity="0.00"/><stop offset="0.9514" stop-color="#000" stop-opacity="0.00"/><stop offset="0.9583" stop-color="#000" stop-opacity="0.00"/><stop offset="0.9653" stop-color="#000" stop-opacity="0.00"/><stop offset="0.9722" stop-color="#000" stop-opacity="0.00"/><stop offset="0.9792" stop-color="#000" stop-opacity="0.00"/><stop offset="0.9861" stop-color="#000" stop-opacity="0.00"/><stop offset="0.9931" stop-color="#000" stop-opacity="0.00"/><stop offset="1.0000" stop-color="#000" stop-opacity="0.00"/></linearGradient><linearGradient id="cB1" gradientUnits="userSpaceOnUse" x1="0" y1="456" x2="0" y2="673"><stop offset="0.0000" stop-color="#000" stop-opacity="0.22"/><stop offset="0.0069" stop-color="#000" stop-opacity="0.22"/><stop offset="0.0139" stop-color="#000" stop-opacity="0.23"/><stop offset="0.0208" stop-color="#000" stop-opacity="0.24"/><stop offset="0.0278" stop-color="#000" stop-opacity="0.24"/><stop offset="0.0347" stop-color="#000" stop-opacity="0.25"/><stop offset="0.0417" stop-color="#000" stop-opacity="0.25"/><stop offset="0.0486" stop-color="#000" stop-opacity="0.25"/><stop offset="0.0556" stop-color="#000" stop-opacity="0.26"/><stop offset="0.0625" stop-color="#000" stop-opacity="0.27"/><stop offset="0.0694" stop-color="#000" stop-opacity="0.28"/><stop offset="0.0764" stop-color="#000" stop-opacity="0.28"/><stop offset="0.0833" stop-color="#000" stop-opacity="0.29"/><stop offset="0.0903" stop-color="#000" stop-opacity="0.29"/><stop offset="0.0972" stop-color="#000" stop-opacity="0.30"/><stop offset="0.1042" stop-color="#000" stop-opacity="0.32"/><stop offset="0.1111" stop-color="#000" stop-opacity="0.33"/><stop offset="0.1181" stop-color="#000" stop-opacity="0.33"/><stop offset="0.1250" stop-color="#000" stop-opacity="0.34"/><stop offset="0.1319" stop-color="#000" stop-opacity="0.36"/><stop offset="0.1389" stop-color="#000" stop-opacity="0.38"/><stop offset="0.1458" stop-color="#000" stop-opacity="0.41"/><stop offset="0.1528" stop-color="#000" stop-opacity="0.42"/><stop offset="0.1597" stop-color="#000" stop-opacity="0.42"/><stop offset="0.1667" stop-color="#000" stop-opacity="0.44"/><stop offset="0.1736" stop-color="#000" stop-opacity="0.47"/><stop offset="0.1806" stop-color="#000" stop-opacity="0.50"/><stop offset="0.1875" stop-color="#000" stop-opacity="0.54"/><stop offset="0.1944" stop-color="#000" stop-opacity="0.57"/><stop offset="0.2014" stop-color="#000" stop-opacity="0.58"/><stop offset="0.2083" stop-color="#000" stop-opacity="0.60"/><stop offset="0.2153" stop-color="#000" stop-opacity="0.65"/><stop offset="0.2222" stop-color="#000" stop-opacity="0.71"/><stop offset="0.2292" stop-color="#000" stop-opacity="0.74"/><stop offset="0.2361" stop-color="#000" stop-opacity="0.74"/><stop offset="0.2431" stop-color="#000" stop-opacity="0.76"/><stop offset="0.2500" stop-color="#000" stop-opacity="0.78"/><stop offset="0.2569" stop-color="#000" stop-opacity="0.80"/><stop offset="0.2639" stop-color="#000" stop-opacity="0.82"/><stop offset="0.2708" stop-color="#000" stop-opacity="0.89"/><stop offset="0.2778" stop-color="#000" stop-opacity="0.92"/><stop offset="0.2847" stop-color="#000" stop-opacity="0.87"/><stop offset="0.2917" stop-color="#000" stop-opacity="0.77"/><stop offset="0.2986" stop-color="#000" stop-opacity="0.82"/><stop offset="0.3056" stop-color="#000" stop-opacity="0.91"/><stop offset="0.3125" stop-color="#000" stop-opacity="0.90"/><stop offset="0.3194" stop-color="#000" stop-opacity="0.81"/><stop offset="0.3264" stop-color="#000" stop-opacity="0.70"/><stop offset="0.3333" stop-color="#000" stop-opacity="0.81"/><stop offset="0.3403" stop-color="#000" stop-opacity="0.90"/><stop offset="0.3472" stop-color="#000" stop-opacity="0.92"/><stop offset="0.3542" stop-color="#000" stop-opacity="0.84"/><stop offset="0.3611" stop-color="#000" stop-opacity="0.71"/><stop offset="0.3681" stop-color="#000" stop-opacity="0.69"/><stop offset="0.3750" stop-color="#000" stop-opacity="0.81"/><stop offset="0.3819" stop-color="#000" stop-opacity="0.90"/><stop offset="0.3889" stop-color="#000" stop-opacity="0.92"/><stop offset="0.3958" stop-color="#000" stop-opacity="0.85"/><stop offset="0.4028" stop-color="#000" stop-opacity="0.71"/><stop offset="0.4097" stop-color="#000" stop-opacity="0.57"/><stop offset="0.4167" stop-color="#000" stop-opacity="0.64"/><stop offset="0.4236" stop-color="#000" stop-opacity="0.78"/><stop offset="0.4306" stop-color="#000" stop-opacity="0.88"/><stop offset="0.4375" stop-color="#000" stop-opacity="0.92"/><stop offset="0.4444" stop-color="#000" stop-opacity="0.88"/><stop offset="0.4514" stop-color="#000" stop-opacity="0.75"/><stop offset="0.4583" stop-color="#000" stop-opacity="0.58"/><stop offset="0.4653" stop-color="#000" stop-opacity="0.46"/><stop offset="0.4722" stop-color="#000" stop-opacity="0.58"/><stop offset="0.4792" stop-color="#000" stop-opacity="0.72"/><stop offset="0.4861" stop-color="#000" stop-opacity="0.84"/><stop offset="0.4931" stop-color="#000" stop-opacity="0.91"/><stop offset="0.5000" stop-color="#000" stop-opacity="0.92"/><stop offset="0.5069" stop-color="#000" stop-opacity="0.88"/><stop offset="0.5139" stop-color="#000" stop-opacity="0.79"/><stop offset="0.5208" stop-color="#000" stop-opacity="0.69"/><stop offset="0.5278" stop-color="#000" stop-opacity="0.58"/><stop offset="0.5347" stop-color="#000" stop-opacity="0.62"/><stop offset="0.5417" stop-color="#000" stop-opacity="0.73"/><stop offset="0.5486" stop-color="#000" stop-opacity="0.83"/><stop offset="0.5556" stop-color="#000" stop-opacity="0.90"/><stop offset="0.5625" stop-color="#000" stop-opacity="0.92"/><stop offset="0.5694" stop-color="#000" stop-opacity="0.89"/><stop offset="0.5764" stop-color="#000" stop-opacity="0.81"/><stop offset="0.5833" stop-color="#000" stop-opacity="0.70"/><stop offset="0.5903" stop-color="#000" stop-opacity="0.58"/><stop offset="0.5972" stop-color="#000" stop-opacity="0.55"/><stop offset="0.6042" stop-color="#000" stop-opacity="0.64"/><stop offset="0.6111" stop-color="#000" stop-opacity="0.73"/><stop offset="0.6181" stop-color="#000" stop-opacity="0.81"/><stop offset="0.6250" stop-color="#000" stop-opacity="0.88"/><stop offset="0.6319" stop-color="#000" stop-opacity="0.92"/><stop offset="0.6389" stop-color="#000" stop-opacity="0.93"/><stop offset="0.6458" stop-color="#000" stop-opacity="0.90"/><stop offset="0.6528" stop-color="#000" stop-opacity="0.82"/><stop offset="0.6597" stop-color="#000" stop-opacity="0.72"/><stop offset="0.6667" stop-color="#000" stop-opacity="0.60"/><stop offset="0.6736" stop-color="#000" stop-opacity="0.49"/><stop offset="0.6806" stop-color="#000" stop-opacity="0.50"/><stop offset="0.6875" stop-color="#000" stop-opacity="0.60"/><stop offset="0.6944" stop-color="#000" stop-opacity="0.70"/><stop offset="0.7014" stop-color="#000" stop-opacity="0.79"/><stop offset="0.7083" stop-color="#000" stop-opacity="0.85"/><stop offset="0.7153" stop-color="#000" stop-opacity="0.87"/><stop offset="0.7222" stop-color="#000" stop-opacity="0.85"/><stop offset="0.7292" stop-color="#000" stop-opacity="0.79"/><stop offset="0.7361" stop-color="#000" stop-opacity="0.70"/><stop offset="0.7431" stop-color="#000" stop-opacity="0.59"/><stop offset="0.7500" stop-color="#000" stop-opacity="0.46"/><stop offset="0.7569" stop-color="#000" stop-opacity="0.33"/><stop offset="0.7639" stop-color="#000" stop-opacity="0.29"/><stop offset="0.7708" stop-color="#000" stop-opacity="0.41"/><stop offset="0.7778" stop-color="#000" stop-opacity="0.54"/><stop offset="0.7847" stop-color="#000" stop-opacity="0.67"/><stop offset="0.7917" stop-color="#000" stop-opacity="0.78"/><stop offset="0.7986" stop-color="#000" stop-opacity="0.87"/><stop offset="0.8056" stop-color="#000" stop-opacity="0.92"/><stop offset="0.8125" stop-color="#000" stop-opacity="0.93"/><stop offset="0.8194" stop-color="#000" stop-opacity="0.91"/><stop offset="0.8264" stop-color="#000" stop-opacity="0.87"/><stop offset="0.8333" stop-color="#000" stop-opacity="0.80"/><stop offset="0.8403" stop-color="#000" stop-opacity="0.71"/><stop offset="0.8472" stop-color="#000" stop-opacity="0.61"/><stop offset="0.8542" stop-color="#000" stop-opacity="0.50"/><stop offset="0.8611" stop-color="#000" stop-opacity="0.38"/><stop offset="0.8681" stop-color="#000" stop-opacity="0.26"/><stop offset="0.8750" stop-color="#000" stop-opacity="0.16"/><stop offset="0.8819" stop-color="#000" stop-opacity="0.15"/><stop offset="0.8889" stop-color="#000" stop-opacity="0.23"/><stop offset="0.8958" stop-color="#000" stop-opacity="0.33"/><stop offset="0.9028" stop-color="#000" stop-opacity="0.43"/><stop offset="0.9097" stop-color="#000" stop-opacity="0.52"/><stop offset="0.9167" stop-color="#000" stop-opacity="0.59"/><stop offset="0.9236" stop-color="#000" stop-opacity="0.64"/><stop offset="0.9306" stop-color="#000" stop-opacity="0.67"/><stop offset="0.9375" stop-color="#000" stop-opacity="0.68"/><stop offset="0.9444" stop-color="#000" stop-opacity="0.66"/><stop offset="0.9514" stop-color="#000" stop-opacity="0.61"/><stop offset="0.9583" stop-color="#000" stop-opacity="0.53"/><stop offset="0.9653" stop-color="#000" stop-opacity="0.44"/><stop offset="0.9722" stop-color="#000" stop-opacity="0.33"/><stop offset="0.9792" stop-color="#000" stop-opacity="0.22"/><stop offset="0.9861" stop-color="#000" stop-opacity="0.12"/><stop offset="0.9931" stop-color="#000" stop-opacity="0.07"/><stop offset="1.0000" stop-color="#000" stop-opacity="0.07"/></linearGradient><linearGradient id="eB1" gradientUnits="userSpaceOnUse" x1="0" y1="456" x2="0" y2="673"><stop offset="0.0000" stop-color="#000" stop-opacity="0.13"/><stop offset="0.0069" stop-color="#000" stop-opacity="0.14"/><stop offset="0.0139" stop-color="#000" stop-opacity="0.16"/><stop offset="0.0208" stop-color="#000" stop-opacity="0.20"/><stop offset="0.0278" stop-color="#000" stop-opacity="0.23"/><stop offset="0.0347" stop-color="#000" stop-opacity="0.26"/><stop offset="0.0417" stop-color="#000" stop-opacity="0.27"/><stop offset="0.0486" stop-color="#000" stop-opacity="0.29"/><stop offset="0.0556" stop-color="#000" stop-opacity="0.34"/><stop offset="0.0625" stop-color="#000" stop-opacity="0.42"/><stop offset="0.0694" stop-color="#000" stop-opacity="0.51"/><stop offset="0.0764" stop-color="#000" stop-opacity="0.58"/><stop offset="0.0833" stop-color="#000" stop-opacity="0.63"/><stop offset="0.0903" stop-color="#000" stop-opacity="0.64"/><stop offset="0.0972" stop-color="#000" stop-opacity="0.69"/><stop offset="0.1042" stop-color="#000" stop-opacity="0.77"/><stop offset="0.1111" stop-color="#000" stop-opacity="0.84"/><stop offset="0.1181" stop-color="#000" stop-opacity="0.85"/><stop offset="0.1250" stop-color="#000" stop-opacity="0.86"/><stop offset="0.1319" stop-color="#000" stop-opacity="0.87"/><stop offset="0.1389" stop-color="#000" stop-opacity="0.89"/><stop offset="0.1458" stop-color="#000" stop-opacity="0.90"/><stop offset="0.1528" stop-color="#000" stop-opacity="0.91"/><stop offset="0.1597" stop-color="#000" stop-opacity="0.91"/><stop offset="0.1667" stop-color="#000" stop-opacity="0.91"/><stop offset="0.1736" stop-color="#000" stop-opacity="0.91"/><stop offset="0.1806" stop-color="#000" stop-opacity="0.90"/><stop offset="0.1875" stop-color="#000" stop-opacity="0.89"/><stop offset="0.1944" stop-color="#000" stop-opacity="0.88"/><stop offset="0.2014" stop-color="#000" stop-opacity="0.88"/><stop offset="0.2083" stop-color="#000" stop-opacity="0.88"/><stop offset="0.2153" stop-color="#000" stop-opacity="0.86"/><stop offset="0.2222" stop-color="#000" stop-opacity="0.83"/><stop offset="0.2292" stop-color="#000" stop-opacity="0.81"/><stop offset="0.2361" stop-color="#000" stop-opacity="0.80"/><stop offset="0.2431" stop-color="#000" stop-opacity="0.79"/><stop offset="0.2500" stop-color="#000" stop-opacity="0.77"/><stop offset="0.2569" stop-color="#000" stop-opacity="0.75"/><stop offset="0.2639" stop-color="#000" stop-opacity="0.72"/><stop offset="0.2708" stop-color="#000" stop-opacity="0.53"/><stop offset="0.2778" stop-color="#000" stop-opacity="0.39"/><stop offset="0.2847" stop-color="#000" stop-opacity="0.62"/><stop offset="0.2917" stop-color="#000" stop-opacity="0.78"/><stop offset="0.2986" stop-color="#000" stop-opacity="0.73"/><stop offset="0.3056" stop-color="#000" stop-opacity="0.46"/><stop offset="0.3125" stop-color="#000" stop-opacity="0.48"/><stop offset="0.3194" stop-color="#000" stop-opacity="0.74"/><stop offset="0.3264" stop-color="#000" stop-opacity="0.83"/><stop offset="0.3333" stop-color="#000" stop-opacity="0.74"/><stop offset="0.3403" stop-color="#000" stop-opacity="0.52"/><stop offset="0.3472" stop-color="#000" stop-opacity="0.40"/><stop offset="0.3542" stop-color="#000" stop-opacity="0.68"/><stop offset="0.3611" stop-color="#000" stop-opacity="0.83"/><stop offset="0.3681" stop-color="#000" stop-opacity="0.84"/><stop offset="0.3750" stop-color="#000" stop-opacity="0.74"/><stop offset="0.3819" stop-color="#000" stop-opacity="0.51"/><stop offset="0.3889" stop-color="#000" stop-opacity="0.40"/><stop offset="0.3958" stop-color="#000" stop-opacity="0.67"/><stop offset="0.4028" stop-color="#000" stop-opacity="0.83"/><stop offset="0.4097" stop-color="#000" stop-opacity="0.88"/><stop offset="0.4167" stop-color="#000" stop-opacity="0.86"/><stop offset="0.4236" stop-color="#000" stop-opacity="0.78"/><stop offset="0.4306" stop-color="#000" stop-opacity="0.58"/><stop offset="0.4375" stop-color="#000" stop-opacity="0.38"/><stop offset="0.4444" stop-color="#000" stop-opacity="0.60"/><stop offset="0.4514" stop-color="#000" stop-opacity="0.80"/><stop offset="0.4583" stop-color="#000" stop-opacity="0.88"/><stop offset="0.4653" stop-color="#000" stop-opacity="0.91"/><stop offset="0.4722" stop-color="#000" stop-opacity="0.88"/><stop offset="0.4792" stop-color="#000" stop-opacity="0.82"/><stop offset="0.4861" stop-color="#000" stop-opacity="0.69"/><stop offset="0.4931" stop-color="#000" stop-opacity="0.47"/><stop offset="0.5000" stop-color="#000" stop-opacity="0.40"/><stop offset="0.5069" stop-color="#000" stop-opacity="0.60"/><stop offset="0.5139" stop-color="#000" stop-opacity="0.76"/><stop offset="0.5208" stop-color="#000" stop-opacity="0.84"/><stop offset="0.5278" stop-color="#000" stop-opacity="0.88"/><stop offset="0.5347" stop-color="#000" stop-opacity="0.87"/><stop offset="0.5417" stop-color="#000" stop-opacity="0.82"/><stop offset="0.5486" stop-color="#000" stop-opacity="0.71"/><stop offset="0.5556" stop-color="#000" stop-opacity="0.52"/><stop offset="0.5625" stop-color="#000" stop-opacity="0.38"/><stop offset="0.5694" stop-color="#000" stop-opacity="0.54"/><stop offset="0.5764" stop-color="#000" stop-opacity="0.72"/><stop offset="0.5833" stop-color="#000" stop-opacity="0.81"/><stop offset="0.5903" stop-color="#000" stop-opacity="0.86"/><stop offset="0.5972" stop-color="#000" stop-opacity="0.87"/><stop offset="0.6042" stop-color="#000" stop-opacity="0.84"/><stop offset="0.6111" stop-color="#000" stop-opacity="0.80"/><stop offset="0.6181" stop-color="#000" stop-opacity="0.71"/><stop offset="0.6250" stop-color="#000" stop-opacity="0.57"/><stop offset="0.6319" stop-color="#000" stop-opacity="0.37"/><stop offset="0.6389" stop-color="#000" stop-opacity="0.29"/><stop offset="0.6458" stop-color="#000" stop-opacity="0.37"/><stop offset="0.6528" stop-color="#000" stop-opacity="0.45"/><stop offset="0.6597" stop-color="#000" stop-opacity="0.49"/><stop offset="0.6667" stop-color="#000" stop-opacity="0.51"/><stop offset="0.6736" stop-color="#000" stop-opacity="0.52"/><stop offset="0.6806" stop-color="#000" stop-opacity="0.51"/><stop offset="0.6875" stop-color="#000" stop-opacity="0.49"/><stop offset="0.6944" stop-color="#000" stop-opacity="0.46"/><stop offset="0.7014" stop-color="#000" stop-opacity="0.41"/><stop offset="0.7083" stop-color="#000" stop-opacity="0.35"/><stop offset="0.7153" stop-color="#000" stop-opacity="0.31"/><stop offset="0.7222" stop-color="#000" stop-opacity="0.29"/><stop offset="0.7292" stop-color="#000" stop-opacity="0.25"/><stop offset="0.7361" stop-color="#000" stop-opacity="0.22"/><stop offset="0.7431" stop-color="#000" stop-opacity="0.20"/><stop offset="0.7500" stop-color="#000" stop-opacity="0.19"/><stop offset="0.7569" stop-color="#000" stop-opacity="0.18"/><stop offset="0.7639" stop-color="#000" stop-opacity="0.18"/><stop offset="0.7708" stop-color="#000" stop-opacity="0.18"/><stop offset="0.7778" stop-color="#000" stop-opacity="0.18"/><stop offset="0.7847" stop-color="#000" stop-opacity="0.17"/><stop offset="0.7917" stop-color="#000" stop-opacity="0.17"/><stop offset="0.7986" stop-color="#000" stop-opacity="0.16"/><stop offset="0.8056" stop-color="#000" stop-opacity="0.15"/><stop offset="0.8125" stop-color="#000" stop-opacity="0.14"/><stop offset="0.8194" stop-color="#000" stop-opacity="0.12"/><stop offset="0.8264" stop-color="#000" stop-opacity="0.09"/><stop offset="0.8333" stop-color="#000" stop-opacity="0.07"/><stop offset="0.8403" stop-color="#000" stop-opacity="0.05"/><stop offset="0.8472" stop-color="#000" stop-opacity="0.05"/><stop offset="0.8542" stop-color="#000" stop-opacity="0.04"/><stop offset="0.8611" stop-color="#000" stop-opacity="0.04"/><stop offset="0.8681" stop-color="#000" stop-opacity="0.04"/><stop offset="0.8750" stop-color="#000" stop-opacity="0.03"/><stop offset="0.8819" stop-color="#000" stop-opacity="0.03"/><stop offset="0.8889" stop-color="#000" stop-opacity="0.04"/><stop offset="0.8958" stop-color="#000" stop-opacity="0.04"/><stop offset="0.9028" stop-color="#000" stop-opacity="0.04"/><stop offset="0.9097" stop-color="#000" stop-opacity="0.05"/><stop offset="0.9167" stop-color="#000" stop-opacity="0.05"/><stop offset="0.9236" stop-color="#000" stop-opacity="0.06"/><stop offset="0.9306" stop-color="#000" stop-opacity="0.06"/><stop offset="0.9375" stop-color="#000" stop-opacity="0.06"/><stop offset="0.9444" stop-color="#000" stop-opacity="0.06"/><stop offset="0.9514" stop-color="#000" stop-opacity="0.04"/><stop offset="0.9583" stop-color="#000" stop-opacity="0.03"/><stop offset="0.9653" stop-color="#000" stop-opacity="0.02"/><stop offset="0.9722" stop-color="#000" stop-opacity="0.01"/><stop offset="0.9792" stop-color="#000" stop-opacity="0.01"/><stop offset="0.9861" stop-color="#000" stop-opacity="0.00"/><stop offset="0.9931" stop-color="#000" stop-opacity="0.00"/><stop offset="1.0000" stop-color="#000" stop-opacity="0.00"/></linearGradient><linearGradient id="cB2" gradientUnits="userSpaceOnUse" x1="0" y1="456" x2="0" y2="673"><stop offset="0.0000" stop-color="#000" stop-opacity="0.24"/><stop offset="0.0069" stop-color="#000" stop-opacity="0.24"/><stop offset="0.0139" stop-color="#000" stop-opacity="0.24"/><stop offset="0.0208" stop-color="#000" stop-opacity="0.25"/><stop offset="0.0278" stop-color="#000" stop-opacity="0.25"/><stop offset="0.0347" stop-color="#000" stop-opacity="0.25"/><stop offset="0.0417" stop-color="#000" stop-opacity="0.25"/><stop offset="0.0486" stop-color="#000" stop-opacity="0.26"/><stop offset="0.0556" stop-color="#000" stop-opacity="0.27"/><stop offset="0.0625" stop-color="#000" stop-opacity="0.27"/><stop offset="0.0694" stop-color="#000" stop-opacity="0.27"/><stop offset="0.0764" stop-color="#000" stop-opacity="0.28"/><stop offset="0.0833" stop-color="#000" stop-opacity="0.30"/><stop offset="0.0903" stop-color="#000" stop-opacity="0.32"/><stop offset="0.0972" stop-color="#000" stop-opacity="0.33"/><stop offset="0.1042" stop-color="#000" stop-opacity="0.35"/><stop offset="0.1111" stop-color="#000" stop-opacity="0.35"/><stop offset="0.1181" stop-color="#000" stop-opacity="0.36"/><stop offset="0.1250" stop-color="#000" stop-opacity="0.39"/><stop offset="0.1319" stop-color="#000" stop-opacity="0.43"/><stop offset="0.1389" stop-color="#000" stop-opacity="0.46"/><stop offset="0.1458" stop-color="#000" stop-opacity="0.50"/><stop offset="0.1528" stop-color="#000" stop-opacity="0.52"/><stop offset="0.1597" stop-color="#000" stop-opacity="0.52"/><stop offset="0.1667" stop-color="#000" stop-opacity="0.56"/><stop offset="0.1736" stop-color="#000" stop-opacity="0.63"/><stop offset="0.1806" stop-color="#000" stop-opacity="0.69"/><stop offset="0.1875" stop-color="#000" stop-opacity="0.72"/><stop offset="0.1944" stop-color="#000" stop-opacity="0.74"/><stop offset="0.2014" stop-color="#000" stop-opacity="0.81"/><stop offset="0.2083" stop-color="#000" stop-opacity="0.89"/><stop offset="0.2153" stop-color="#000" stop-opacity="0.93"/><stop offset="0.2222" stop-color="#000" stop-opacity="0.91"/><stop offset="0.2292" stop-color="#000" stop-opacity="0.87"/><stop offset="0.2361" stop-color="#000" stop-opacity="0.85"/><stop offset="0.2431" stop-color="#000" stop-opacity="0.87"/><stop offset="0.2500" stop-color="#000" stop-opacity="0.91"/><stop offset="0.2569" stop-color="#000" stop-opacity="0.93"/><stop offset="0.2639" stop-color="#000" stop-opacity="0.92"/><stop offset="0.2708" stop-color="#000" stop-opacity="0.89"/><stop offset="0.2778" stop-color="#000" stop-opacity="0.86"/><stop offset="0.2847" stop-color="#000" stop-opacity="0.88"/><stop offset="0.2917" stop-color="#000" stop-opacity="0.92"/><stop offset="0.2986" stop-color="#000" stop-opacity="0.93"/><stop offset="0.3056" stop-color="#000" stop-opacity="0.91"/><stop offset="0.3125" stop-color="#000" stop-opacity="0.87"/><stop offset="0.3194" stop-color="#000" stop-opacity="0.87"/><stop offset="0.3264" stop-color="#000" stop-opacity="0.90"/><stop offset="0.3333" stop-color="#000" stop-opacity="0.92"/><stop offset="0.3403" stop-color="#000" stop-opacity="0.93"/><stop offset="0.3472" stop-color="#000" stop-opacity="0.93"/><stop offset="0.3542" stop-color="#000" stop-opacity="0.93"/><stop offset="0.3611" stop-color="#000" stop-opacity="0.93"/><stop offset="0.3681" stop-color="#000" stop-opacity="0.93"/><stop offset="0.3750" stop-color="#000" stop-opacity="0.93"/><stop offset="0.3819" stop-color="#000" stop-opacity="0.93"/><stop offset="0.3889" stop-color="#000" stop-opacity="0.93"/><stop offset="0.3958" stop-color="#000" stop-opacity="0.94"/><stop offset="0.4028" stop-color="#000" stop-opacity="0.94"/><stop offset="0.4097" stop-color="#000" stop-opacity="0.94"/><stop offset="0.4167" stop-color="#000" stop-opacity="0.94"/><stop offset="0.4236" stop-color="#000" stop-opacity="0.94"/><stop offset="0.4306" stop-color="#000" stop-opacity="0.94"/><stop offset="0.4375" stop-color="#000" stop-opacity="0.94"/><stop offset="0.4444" stop-color="#000" stop-opacity="0.94"/><stop offset="0.4514" stop-color="#000" stop-opacity="0.94"/><stop offset="0.4583" stop-color="#000" stop-opacity="0.94"/><stop offset="0.4653" stop-color="#000" stop-opacity="0.94"/><stop offset="0.4722" stop-color="#000" stop-opacity="0.94"/><stop offset="0.4792" stop-color="#000" stop-opacity="0.94"/><stop offset="0.4861" stop-color="#000" stop-opacity="0.94"/><stop offset="0.4931" stop-color="#000" stop-opacity="0.94"/><stop offset="0.5000" stop-color="#000" stop-opacity="0.94"/><stop offset="0.5069" stop-color="#000" stop-opacity="0.94"/><stop offset="0.5139" stop-color="#000" stop-opacity="0.93"/><stop offset="0.5208" stop-color="#000" stop-opacity="0.93"/><stop offset="0.5278" stop-color="#000" stop-opacity="0.93"/><stop offset="0.5347" stop-color="#000" stop-opacity="0.92"/><stop offset="0.5417" stop-color="#000" stop-opacity="0.92"/><stop offset="0.5486" stop-color="#000" stop-opacity="0.91"/><stop offset="0.5556" stop-color="#000" stop-opacity="0.91"/><stop offset="0.5625" stop-color="#000" stop-opacity="0.91"/><stop offset="0.5694" stop-color="#000" stop-opacity="0.90"/><stop offset="0.5764" stop-color="#000" stop-opacity="0.90"/><stop offset="0.5833" stop-color="#000" stop-opacity="0.91"/><stop offset="0.5903" stop-color="#000" stop-opacity="0.92"/><stop offset="0.5972" stop-color="#000" stop-opacity="0.93"/><stop offset="0.6042" stop-color="#000" stop-opacity="0.94"/><stop offset="0.6111" stop-color="#000" stop-opacity="0.94"/><stop offset="0.6181" stop-color="#000" stop-opacity="0.94"/><stop offset="0.6250" stop-color="#000" stop-opacity="0.93"/><stop offset="0.6319" stop-color="#000" stop-opacity="0.93"/><stop offset="0.6389" stop-color="#000" stop-opacity="0.91"/><stop offset="0.6458" stop-color="#000" stop-opacity="0.90"/><stop offset="0.6528" stop-color="#000" stop-opacity="0.90"/><stop offset="0.6597" stop-color="#000" stop-opacity="0.91"/><stop offset="0.6667" stop-color="#000" stop-opacity="0.92"/><stop offset="0.6736" stop-color="#000" stop-opacity="0.93"/><stop offset="0.6806" stop-color="#000" stop-opacity="0.94"/><stop offset="0.6875" stop-color="#000" stop-opacity="0.94"/><stop offset="0.6944" stop-color="#000" stop-opacity="0.94"/><stop offset="0.7014" stop-color="#000" stop-opacity="0.94"/><stop offset="0.7083" stop-color="#000" stop-opacity="0.93"/><stop offset="0.7153" stop-color="#000" stop-opacity="0.93"/><stop offset="0.7222" stop-color="#000" stop-opacity="0.90"/><stop offset="0.7292" stop-color="#000" stop-opacity="0.82"/><stop offset="0.7361" stop-color="#000" stop-opacity="0.72"/><stop offset="0.7431" stop-color="#000" stop-opacity="0.61"/><stop offset="0.7500" stop-color="#000" stop-opacity="0.53"/><stop offset="0.7569" stop-color="#000" stop-opacity="0.57"/><stop offset="0.7639" stop-color="#000" stop-opacity="0.62"/><stop offset="0.7708" stop-color="#000" stop-opacity="0.66"/><stop offset="0.7778" stop-color="#000" stop-opacity="0.69"/><stop offset="0.7847" stop-color="#000" stop-opacity="0.72"/><stop offset="0.7917" stop-color="#000" stop-opacity="0.73"/><stop offset="0.7986" stop-color="#000" stop-opacity="0.72"/><stop offset="0.8056" stop-color="#000" stop-opacity="0.70"/><stop offset="0.8125" stop-color="#000" stop-opacity="0.65"/><stop offset="0.8194" stop-color="#000" stop-opacity="0.59"/><stop offset="0.8264" stop-color="#000" stop-opacity="0.51"/><stop offset="0.8333" stop-color="#000" stop-opacity="0.43"/><stop offset="0.8403" stop-color="#000" stop-opacity="0.35"/><stop offset="0.8472" stop-color="#000" stop-opacity="0.27"/><stop offset="0.8542" stop-color="#000" stop-opacity="0.26"/><stop offset="0.8611" stop-color="#000" stop-opacity="0.28"/><stop offset="0.8681" stop-color="#000" stop-opacity="0.30"/><stop offset="0.8750" stop-color="#000" stop-opacity="0.32"/><stop offset="0.8819" stop-color="#000" stop-opacity="0.35"/><stop offset="0.8889" stop-color="#000" stop-opacity="0.37"/><stop offset="0.8958" stop-color="#000" stop-opacity="0.38"/><stop offset="0.9028" stop-color="#000" stop-opacity="0.39"/><stop offset="0.9097" stop-color="#000" stop-opacity="0.40"/><stop offset="0.9167" stop-color="#000" stop-opacity="0.40"/><stop offset="0.9236" stop-color="#000" stop-opacity="0.39"/><stop offset="0.9306" stop-color="#000" stop-opacity="0.36"/><stop offset="0.9375" stop-color="#000" stop-opacity="0.33"/><stop offset="0.9444" stop-color="#000" stop-opacity="0.28"/><stop offset="0.9514" stop-color="#000" stop-opacity="0.23"/><stop offset="0.9583" stop-color="#000" stop-opacity="0.17"/><stop offset="0.9653" stop-color="#000" stop-opacity="0.12"/><stop offset="0.9722" stop-color="#000" stop-opacity="0.08"/><stop offset="0.9792" stop-color="#000" stop-opacity="0.08"/><stop offset="0.9861" stop-color="#000" stop-opacity="0.07"/><stop offset="0.9931" stop-color="#000" stop-opacity="0.06"/><stop offset="1.0000" stop-color="#000" stop-opacity="0.06"/></linearGradient><linearGradient id="eB2" gradientUnits="userSpaceOnUse" x1="0" y1="456" x2="0" y2="673"><stop offset="0.0000" stop-color="#000" stop-opacity="0.13"/><stop offset="0.0069" stop-color="#000" stop-opacity="0.14"/><stop offset="0.0139" stop-color="#000" stop-opacity="0.16"/><stop offset="0.0208" stop-color="#000" stop-opacity="0.18"/><stop offset="0.0278" stop-color="#000" stop-opacity="0.20"/><stop offset="0.0347" stop-color="#000" stop-opacity="0.20"/><stop offset="0.0417" stop-color="#000" stop-opacity="0.23"/><stop offset="0.0486" stop-color="#000" stop-opacity="0.29"/><stop offset="0.0556" stop-color="#000" stop-opacity="0.34"/><stop offset="0.0625" stop-color="#000" stop-opacity="0.37"/><stop offset="0.0694" stop-color="#000" stop-opacity="0.38"/><stop offset="0.0764" stop-color="#000" stop-opacity="0.41"/><stop offset="0.0833" stop-color="#000" stop-opacity="0.46"/><stop offset="0.0903" stop-color="#000" stop-opacity="0.52"/><stop offset="0.0972" stop-color="#000" stop-opacity="0.58"/><stop offset="0.1042" stop-color="#000" stop-opacity="0.62"/><stop offset="0.1111" stop-color="#000" stop-opacity="0.63"/><stop offset="0.1181" stop-color="#000" stop-opacity="0.64"/><stop offset="0.1250" stop-color="#000" stop-opacity="0.66"/><stop offset="0.1319" stop-color="#000" stop-opacity="0.69"/><stop offset="0.1389" stop-color="#000" stop-opacity="0.73"/><stop offset="0.1458" stop-color="#000" stop-opacity="0.76"/><stop offset="0.1528" stop-color="#000" stop-opacity="0.79"/><stop offset="0.1597" stop-color="#000" stop-opacity="0.79"/><stop offset="0.1667" stop-color="#000" stop-opacity="0.80"/><stop offset="0.1736" stop-color="#000" stop-opacity="0.80"/><stop offset="0.1806" stop-color="#000" stop-opacity="0.81"/><stop offset="0.1875" stop-color="#000" stop-opacity="0.82"/><stop offset="0.1944" stop-color="#000" stop-opacity="0.81"/><stop offset="0.2014" stop-color="#000" stop-opacity="0.74"/><stop offset="0.2083" stop-color="#000" stop-opacity="0.56"/><stop offset="0.2153" stop-color="#000" stop-opacity="0.30"/><stop offset="0.2222" stop-color="#000" stop-opacity="0.43"/><stop offset="0.2292" stop-color="#000" stop-opacity="0.62"/><stop offset="0.2361" stop-color="#000" stop-opacity="0.67"/><stop offset="0.2431" stop-color="#000" stop-opacity="0.61"/><stop offset="0.2500" stop-color="#000" stop-opacity="0.46"/><stop offset="0.2569" stop-color="#000" stop-opacity="0.29"/><stop offset="0.2639" stop-color="#000" stop-opacity="0.36"/><stop offset="0.2708" stop-color="#000" stop-opacity="0.53"/><stop offset="0.2778" stop-color="#000" stop-opacity="0.65"/><stop offset="0.2847" stop-color="#000" stop-opacity="0.59"/><stop offset="0.2917" stop-color="#000" stop-opacity="0.39"/><stop offset="0.2986" stop-color="#000" stop-opacity="0.29"/><stop offset="0.3056" stop-color="#000" stop-opacity="0.45"/><stop offset="0.3125" stop-color="#000" stop-opacity="0.61"/><stop offset="0.3194" stop-color="#000" stop-opacity="0.61"/><stop offset="0.3264" stop-color="#000" stop-opacity="0.50"/><stop offset="0.3333" stop-color="#000" stop-opacity="0.37"/><stop offset="0.3403" stop-color="#000" stop-opacity="0.29"/><stop offset="0.3472" stop-color="#000" stop-opacity="0.28"/><stop offset="0.3542" stop-color="#000" stop-opacity="0.28"/><stop offset="0.3611" stop-color="#000" stop-opacity="0.27"/><stop offset="0.3681" stop-color="#000" stop-opacity="0.26"/><stop offset="0.3750" stop-color="#000" stop-opacity="0.25"/><stop offset="0.3819" stop-color="#000" stop-opacity="0.25"/><stop offset="0.3889" stop-color="#000" stop-opacity="0.24"/><stop offset="0.3958" stop-color="#000" stop-opacity="0.23"/><stop offset="0.4028" stop-color="#000" stop-opacity="0.22"/><stop offset="0.4097" stop-color="#000" stop-opacity="0.21"/><stop offset="0.4167" stop-color="#000" stop-opacity="0.21"/><stop offset="0.4236" stop-color="#000" stop-opacity="0.20"/><stop offset="0.4306" stop-color="#000" stop-opacity="0.19"/><stop offset="0.4375" stop-color="#000" stop-opacity="0.19"/><stop offset="0.4444" stop-color="#000" stop-opacity="0.18"/><stop offset="0.4514" stop-color="#000" stop-opacity="0.18"/><stop offset="0.4583" stop-color="#000" stop-opacity="0.17"/><stop offset="0.4653" stop-color="#000" stop-opacity="0.17"/><stop offset="0.4722" stop-color="#000" stop-opacity="0.17"/><stop offset="0.4792" stop-color="#000" stop-opacity="0.17"/><stop offset="0.4861" stop-color="#000" stop-opacity="0.17"/><stop offset="0.4931" stop-color="#000" stop-opacity="0.18"/><stop offset="0.5000" stop-color="#000" stop-opacity="0.20"/><stop offset="0.5069" stop-color="#000" stop-opacity="0.23"/><stop offset="0.5139" stop-color="#000" stop-opacity="0.26"/><stop offset="0.5208" stop-color="#000" stop-opacity="0.29"/><stop offset="0.5278" stop-color="#000" stop-opacity="0.32"/><stop offset="0.5347" stop-color="#000" stop-opacity="0.36"/><stop offset="0.5417" stop-color="#000" stop-opacity="0.39"/><stop offset="0.5486" stop-color="#000" stop-opacity="0.42"/><stop offset="0.5556" stop-color="#000" stop-opacity="0.44"/><stop offset="0.5625" stop-color="#000" stop-opacity="0.47"/><stop offset="0.5694" stop-color="#000" stop-opacity="0.49"/><stop offset="0.5764" stop-color="#000" stop-opacity="0.50"/><stop offset="0.5833" stop-color="#000" stop-opacity="0.45"/><stop offset="0.5903" stop-color="#000" stop-opacity="0.38"/><stop offset="0.5972" stop-color="#000" stop-opacity="0.29"/><stop offset="0.6042" stop-color="#000" stop-opacity="0.21"/><stop offset="0.6111" stop-color="#000" stop-opacity="0.17"/><stop offset="0.6181" stop-color="#000" stop-opacity="0.18"/><stop offset="0.6250" stop-color="#000" stop-opacity="0.25"/><stop offset="0.6319" stop-color="#000" stop-opacity="0.33"/><stop offset="0.6389" stop-color="#000" stop-opacity="0.41"/><stop offset="0.6458" stop-color="#000" stop-opacity="0.48"/><stop offset="0.6528" stop-color="#000" stop-opacity="0.48"/><stop offset="0.6597" stop-color="#000" stop-opacity="0.42"/><stop offset="0.6667" stop-color="#000" stop-opacity="0.34"/><stop offset="0.6736" stop-color="#000" stop-opacity="0.26"/><stop offset="0.6806" stop-color="#000" stop-opacity="0.19"/><stop offset="0.6875" stop-color="#000" stop-opacity="0.17"/><stop offset="0.6944" stop-color="#000" stop-opacity="0.18"/><stop offset="0.7014" stop-color="#000" stop-opacity="0.22"/><stop offset="0.7083" stop-color="#000" stop-opacity="0.26"/><stop offset="0.7153" stop-color="#000" stop-opacity="0.29"/><stop offset="0.7222" stop-color="#000" stop-opacity="0.30"/><stop offset="0.7292" stop-color="#000" stop-opacity="0.31"/><stop offset="0.7361" stop-color="#000" stop-opacity="0.32"/><stop offset="0.7431" stop-color="#000" stop-opacity="0.32"/><stop offset="0.7500" stop-color="#000" stop-opacity="0.32"/><stop offset="0.7569" stop-color="#000" stop-opacity="0.35"/><stop offset="0.7639" stop-color="#000" stop-opacity="0.39"/><stop offset="0.7708" stop-color="#000" stop-opacity="0.44"/><stop offset="0.7778" stop-color="#000" stop-opacity="0.49"/><stop offset="0.7847" stop-color="#000" stop-opacity="0.53"/><stop offset="0.7917" stop-color="#000" stop-opacity="0.55"/><stop offset="0.7986" stop-color="#000" stop-opacity="0.54"/><stop offset="0.8056" stop-color="#000" stop-opacity="0.47"/><stop offset="0.8125" stop-color="#000" stop-opacity="0.38"/><stop offset="0.8194" stop-color="#000" stop-opacity="0.29"/><stop offset="0.8264" stop-color="#000" stop-opacity="0.21"/><stop offset="0.8333" stop-color="#000" stop-opacity="0.15"/><stop offset="0.8403" stop-color="#000" stop-opacity="0.11"/><stop offset="0.8472" stop-color="#000" stop-opacity="0.07"/><stop offset="0.8542" stop-color="#000" stop-opacity="0.07"/><stop offset="0.8611" stop-color="#000" stop-opacity="0.10"/><stop offset="0.8681" stop-color="#000" stop-opacity="0.12"/><stop offset="0.8750" stop-color="#000" stop-opacity="0.15"/><stop offset="0.8819" stop-color="#000" stop-opacity="0.18"/><stop offset="0.8889" stop-color="#000" stop-opacity="0.20"/><stop offset="0.8958" stop-color="#000" stop-opacity="0.22"/><stop offset="0.9028" stop-color="#000" stop-opacity="0.24"/><stop offset="0.9097" stop-color="#000" stop-opacity="0.25"/><stop offset="0.9167" stop-color="#000" stop-opacity="0.25"/><stop offset="0.9236" stop-color="#000" stop-opacity="0.24"/><stop offset="0.9306" stop-color="#000" stop-opacity="0.21"/><stop offset="0.9375" stop-color="#000" stop-opacity="0.17"/><stop offset="0.9444" stop-color="#000" stop-opacity="0.13"/><stop offset="0.9514" stop-color="#000" stop-opacity="0.09"/><stop offset="0.9583" stop-color="#000" stop-opacity="0.05"/><stop offset="0.9653" stop-color="#000" stop-opacity="0.02"/><stop offset="0.9722" stop-color="#000" stop-opacity="0.00"/><stop offset="0.9792" stop-color="#000" stop-opacity="0.00"/><stop offset="0.9861" stop-color="#000" stop-opacity="0.00"/><stop offset="0.9931" stop-color="#000" stop-opacity="0.00"/><stop offset="1.0000" stop-color="#000" stop-opacity="0.00"/></linearGradient><linearGradient id="cB3" gradientUnits="userSpaceOnUse" x1="0" y1="456" x2="0" y2="673"><stop offset="0.0000" stop-color="#000" stop-opacity="0.20"/><stop offset="0.0069" stop-color="#000" stop-opacity="0.20"/><stop offset="0.0139" stop-color="#000" stop-opacity="0.20"/><stop offset="0.0208" stop-color="#000" stop-opacity="0.21"/><stop offset="0.0278" stop-color="#000" stop-opacity="0.22"/><stop offset="0.0347" stop-color="#000" stop-opacity="0.22"/><stop offset="0.0417" stop-color="#000" stop-opacity="0.23"/><stop offset="0.0486" stop-color="#000" stop-opacity="0.23"/><stop offset="0.0556" stop-color="#000" stop-opacity="0.24"/><stop offset="0.0625" stop-color="#000" stop-opacity="0.24"/><stop offset="0.0694" stop-color="#000" stop-opacity="0.24"/><stop offset="0.0764" stop-color="#000" stop-opacity="0.25"/><stop offset="0.0833" stop-color="#000" stop-opacity="0.25"/><stop offset="0.0903" stop-color="#000" stop-opacity="0.26"/><stop offset="0.0972" stop-color="#000" stop-opacity="0.27"/><stop offset="0.1042" stop-color="#000" stop-opacity="0.28"/><stop offset="0.1111" stop-color="#000" stop-opacity="0.28"/><stop offset="0.1181" stop-color="#000" stop-opacity="0.29"/><stop offset="0.1250" stop-color="#000" stop-opacity="0.30"/><stop offset="0.1319" stop-color="#000" stop-opacity="0.32"/><stop offset="0.1389" stop-color="#000" stop-opacity="0.34"/><stop offset="0.1458" stop-color="#000" stop-opacity="0.36"/><stop offset="0.1528" stop-color="#000" stop-opacity="0.37"/><stop offset="0.1597" stop-color="#000" stop-opacity="0.37"/><stop offset="0.1667" stop-color="#000" stop-opacity="0.38"/><stop offset="0.1736" stop-color="#000" stop-opacity="0.39"/><stop offset="0.1806" stop-color="#000" stop-opacity="0.41"/><stop offset="0.1875" stop-color="#000" stop-opacity="0.43"/><stop offset="0.1944" stop-color="#000" stop-opacity="0.44"/><stop offset="0.2014" stop-color="#000" stop-opacity="0.45"/><stop offset="0.2083" stop-color="#000" stop-opacity="0.45"/><stop offset="0.2153" stop-color="#000" stop-opacity="0.45"/><stop offset="0.2222" stop-color="#000" stop-opacity="0.46"/><stop offset="0.2292" stop-color="#000" stop-opacity="0.47"/><stop offset="0.2361" stop-color="#000" stop-opacity="0.48"/><stop offset="0.2431" stop-color="#000" stop-opacity="0.49"/><stop offset="0.2500" stop-color="#000" stop-opacity="0.50"/><stop offset="0.2569" stop-color="#000" stop-opacity="0.50"/><stop offset="0.2639" stop-color="#000" stop-opacity="0.51"/><stop offset="0.2708" stop-color="#000" stop-opacity="0.51"/><stop offset="0.2778" stop-color="#000" stop-opacity="0.51"/><stop offset="0.2847" stop-color="#000" stop-opacity="0.51"/><stop offset="0.2917" stop-color="#000" stop-opacity="0.51"/><stop offset="0.2986" stop-color="#000" stop-opacity="0.51"/><stop offset="0.3056" stop-color="#000" stop-opacity="0.51"/><stop offset="0.3125" stop-color="#000" stop-opacity="0.51"/><stop offset="0.3194" stop-color="#000" stop-opacity="0.52"/><stop offset="0.3264" stop-color="#000" stop-opacity="0.52"/><stop offset="0.3333" stop-color="#000" stop-opacity="0.52"/><stop offset="0.3403" stop-color="#000" stop-opacity="0.52"/><stop offset="0.3472" stop-color="#000" stop-opacity="0.52"/><stop offset="0.3542" stop-color="#000" stop-opacity="0.52"/><stop offset="0.3611" stop-color="#000" stop-opacity="0.52"/><stop offset="0.3681" stop-color="#000" stop-opacity="0.52"/><stop offset="0.3750" stop-color="#000" stop-opacity="0.52"/><stop offset="0.3819" stop-color="#000" stop-opacity="0.52"/><stop offset="0.3889" stop-color="#000" stop-opacity="0.52"/><stop offset="0.3958" stop-color="#000" stop-opacity="0.53"/><stop offset="0.4028" stop-color="#000" stop-opacity="0.57"/><stop offset="0.4097" stop-color="#000" stop-opacity="0.59"/><stop offset="0.4167" stop-color="#000" stop-opacity="0.60"/><stop offset="0.4236" stop-color="#000" stop-opacity="0.58"/><stop offset="0.4306" stop-color="#000" stop-opacity="0.55"/><stop offset="0.4375" stop-color="#000" stop-opacity="0.52"/><stop offset="0.4444" stop-color="#000" stop-opacity="0.57"/><stop offset="0.4514" stop-color="#000" stop-opacity="0.62"/><stop offset="0.4583" stop-color="#000" stop-opacity="0.65"/><stop offset="0.4653" stop-color="#000" stop-opacity="0.64"/><stop offset="0.4722" stop-color="#000" stop-opacity="0.60"/><stop offset="0.4792" stop-color="#000" stop-opacity="0.55"/><stop offset="0.4861" stop-color="#000" stop-opacity="0.55"/><stop offset="0.4931" stop-color="#000" stop-opacity="0.64"/><stop offset="0.5000" stop-color="#000" stop-opacity="0.74"/><stop offset="0.5069" stop-color="#000" stop-opacity="0.80"/><stop offset="0.5139" stop-color="#000" stop-opacity="0.79"/><stop offset="0.5208" stop-color="#000" stop-opacity="0.72"/><stop offset="0.5278" stop-color="#000" stop-opacity="0.62"/><stop offset="0.5347" stop-color="#000" stop-opacity="0.55"/><stop offset="0.5417" stop-color="#000" stop-opacity="0.60"/><stop offset="0.5486" stop-color="#000" stop-opacity="0.67"/><stop offset="0.5556" stop-color="#000" stop-opacity="0.72"/><stop offset="0.5625" stop-color="#000" stop-opacity="0.73"/><stop offset="0.5694" stop-color="#000" stop-opacity="0.68"/><stop offset="0.5764" stop-color="#000" stop-opacity="0.59"/><stop offset="0.5833" stop-color="#000" stop-opacity="0.51"/><stop offset="0.5903" stop-color="#000" stop-opacity="0.54"/><stop offset="0.5972" stop-color="#000" stop-opacity="0.62"/><stop offset="0.6042" stop-color="#000" stop-opacity="0.69"/><stop offset="0.6111" stop-color="#000" stop-opacity="0.73"/><stop offset="0.6181" stop-color="#000" stop-opacity="0.71"/><stop offset="0.6250" stop-color="#000" stop-opacity="0.63"/><stop offset="0.6319" stop-color="#000" stop-opacity="0.51"/><stop offset="0.6389" stop-color="#000" stop-opacity="0.44"/><stop offset="0.6458" stop-color="#000" stop-opacity="0.48"/><stop offset="0.6528" stop-color="#000" stop-opacity="0.52"/><stop offset="0.6597" stop-color="#000" stop-opacity="0.55"/><stop offset="0.6667" stop-color="#000" stop-opacity="0.55"/><stop offset="0.6736" stop-color="#000" stop-opacity="0.53"/><stop offset="0.6806" stop-color="#000" stop-opacity="0.50"/><stop offset="0.6875" stop-color="#000" stop-opacity="0.56"/><stop offset="0.6944" stop-color="#000" stop-opacity="0.67"/><stop offset="0.7014" stop-color="#000" stop-opacity="0.76"/><stop offset="0.7083" stop-color="#000" stop-opacity="0.80"/><stop offset="0.7153" stop-color="#000" stop-opacity="0.78"/><stop offset="0.7222" stop-color="#000" stop-opacity="0.72"/><stop offset="0.7292" stop-color="#000" stop-opacity="0.64"/><stop offset="0.7361" stop-color="#000" stop-opacity="0.53"/><stop offset="0.7431" stop-color="#000" stop-opacity="0.42"/><stop offset="0.7500" stop-color="#000" stop-opacity="0.33"/><stop offset="0.7569" stop-color="#000" stop-opacity="0.31"/><stop offset="0.7639" stop-color="#000" stop-opacity="0.39"/><stop offset="0.7708" stop-color="#000" stop-opacity="0.49"/><stop offset="0.7778" stop-color="#000" stop-opacity="0.59"/><stop offset="0.7847" stop-color="#000" stop-opacity="0.67"/><stop offset="0.7917" stop-color="#000" stop-opacity="0.74"/><stop offset="0.7986" stop-color="#000" stop-opacity="0.77"/><stop offset="0.8056" stop-color="#000" stop-opacity="0.76"/><stop offset="0.8125" stop-color="#000" stop-opacity="0.72"/><stop offset="0.8194" stop-color="#000" stop-opacity="0.65"/><stop offset="0.8264" stop-color="#000" stop-opacity="0.56"/><stop offset="0.8333" stop-color="#000" stop-opacity="0.45"/><stop offset="0.8403" stop-color="#000" stop-opacity="0.34"/><stop offset="0.8472" stop-color="#000" stop-opacity="0.23"/><stop offset="0.8542" stop-color="#000" stop-opacity="0.15"/><stop offset="0.8611" stop-color="#000" stop-opacity="0.14"/><stop offset="0.8681" stop-color="#000" stop-opacity="0.17"/><stop offset="0.8750" stop-color="#000" stop-opacity="0.21"/><stop offset="0.8819" stop-color="#000" stop-opacity="0.25"/><stop offset="0.8889" stop-color="#000" stop-opacity="0.29"/><stop offset="0.8958" stop-color="#000" stop-opacity="0.33"/><stop offset="0.9028" stop-color="#000" stop-opacity="0.36"/><stop offset="0.9097" stop-color="#000" stop-opacity="0.38"/><stop offset="0.9167" stop-color="#000" stop-opacity="0.40"/><stop offset="0.9236" stop-color="#000" stop-opacity="0.40"/><stop offset="0.9306" stop-color="#000" stop-opacity="0.39"/><stop offset="0.9375" stop-color="#000" stop-opacity="0.36"/><stop offset="0.9444" stop-color="#000" stop-opacity="0.32"/><stop offset="0.9514" stop-color="#000" stop-opacity="0.27"/><stop offset="0.9583" stop-color="#000" stop-opacity="0.22"/><stop offset="0.9653" stop-color="#000" stop-opacity="0.16"/><stop offset="0.9722" stop-color="#000" stop-opacity="0.11"/><stop offset="0.9792" stop-color="#000" stop-opacity="0.08"/><stop offset="0.9861" stop-color="#000" stop-opacity="0.07"/><stop offset="0.9931" stop-color="#000" stop-opacity="0.07"/><stop offset="1.0000" stop-color="#000" stop-opacity="0.07"/></linearGradient><linearGradient id="eB3" gradientUnits="userSpaceOnUse" x1="0" y1="456" x2="0" y2="673"><stop offset="0.0000" stop-color="#000" stop-opacity="0.02"/><stop offset="0.0069" stop-color="#000" stop-opacity="0.03"/><stop offset="0.0139" stop-color="#000" stop-opacity="0.03"/><stop offset="0.0208" stop-color="#000" stop-opacity="0.03"/><stop offset="0.0278" stop-color="#000" stop-opacity="0.04"/><stop offset="0.0347" stop-color="#000" stop-opacity="0.04"/><stop offset="0.0417" stop-color="#000" stop-opacity="0.04"/><stop offset="0.0486" stop-color="#000" stop-opacity="0.05"/><stop offset="0.0556" stop-color="#000" stop-opacity="0.05"/><stop offset="0.0625" stop-color="#000" stop-opacity="0.05"/><stop offset="0.0694" stop-color="#000" stop-opacity="0.06"/><stop offset="0.0764" stop-color="#000" stop-opacity="0.07"/><stop offset="0.0833" stop-color="#000" stop-opacity="0.09"/><stop offset="0.0903" stop-color="#000" stop-opacity="0.12"/><stop offset="0.0972" stop-color="#000" stop-opacity="0.14"/><stop offset="0.1042" stop-color="#000" stop-opacity="0.16"/><stop offset="0.1111" stop-color="#000" stop-opacity="0.17"/><stop offset="0.1181" stop-color="#000" stop-opacity="0.18"/><stop offset="0.1250" stop-color="#000" stop-opacity="0.20"/><stop offset="0.1319" stop-color="#000" stop-opacity="0.23"/><stop offset="0.1389" stop-color="#000" stop-opacity="0.27"/><stop offset="0.1458" stop-color="#000" stop-opacity="0.31"/><stop offset="0.1528" stop-color="#000" stop-opacity="0.33"/><stop offset="0.1597" stop-color="#000" stop-opacity="0.33"/><stop offset="0.1667" stop-color="#000" stop-opacity="0.35"/><stop offset="0.1736" stop-color="#000" stop-opacity="0.38"/><stop offset="0.1806" stop-color="#000" stop-opacity="0.41"/><stop offset="0.1875" stop-color="#000" stop-opacity="0.45"/><stop offset="0.1944" stop-color="#000" stop-opacity="0.48"/><stop offset="0.2014" stop-color="#000" stop-opacity="0.49"/><stop offset="0.2083" stop-color="#000" stop-opacity="0.49"/><stop offset="0.2153" stop-color="#000" stop-opacity="0.50"/><stop offset="0.2222" stop-color="#000" stop-opacity="0.51"/><stop offset="0.2292" stop-color="#000" stop-opacity="0.53"/><stop offset="0.2361" stop-color="#000" stop-opacity="0.55"/><stop offset="0.2431" stop-color="#000" stop-opacity="0.58"/><stop offset="0.2500" stop-color="#000" stop-opacity="0.60"/><stop offset="0.2569" stop-color="#000" stop-opacity="0.62"/><stop offset="0.2639" stop-color="#000" stop-opacity="0.63"/><stop offset="0.2708" stop-color="#000" stop-opacity="0.63"/><stop offset="0.2778" stop-color="#000" stop-opacity="0.63"/><stop offset="0.2847" stop-color="#000" stop-opacity="0.64"/><stop offset="0.2917" stop-color="#000" stop-opacity="0.64"/><stop offset="0.2986" stop-color="#000" stop-opacity="0.65"/><stop offset="0.3056" stop-color="#000" stop-opacity="0.65"/><stop offset="0.3125" stop-color="#000" stop-opacity="0.66"/><stop offset="0.3194" stop-color="#000" stop-opacity="0.67"/><stop offset="0.3264" stop-color="#000" stop-opacity="0.67"/><stop offset="0.3333" stop-color="#000" stop-opacity="0.68"/><stop offset="0.3403" stop-color="#000" stop-opacity="0.68"/><stop offset="0.3472" stop-color="#000" stop-opacity="0.68"/><stop offset="0.3542" stop-color="#000" stop-opacity="0.69"/><stop offset="0.3611" stop-color="#000" stop-opacity="0.69"/><stop offset="0.3681" stop-color="#000" stop-opacity="0.69"/><stop offset="0.3750" stop-color="#000" stop-opacity="0.69"/><stop offset="0.3819" stop-color="#000" stop-opacity="0.70"/><stop offset="0.3889" stop-color="#000" stop-opacity="0.71"/><stop offset="0.3958" stop-color="#000" stop-opacity="0.71"/><stop offset="0.4028" stop-color="#000" stop-opacity="0.70"/><stop offset="0.4097" stop-color="#000" stop-opacity="0.70"/><stop offset="0.4167" stop-color="#000" stop-opacity="0.70"/><stop offset="0.4236" stop-color="#000" stop-opacity="0.70"/><stop offset="0.4306" stop-color="#000" stop-opacity="0.69"/><stop offset="0.4375" stop-color="#000" stop-opacity="0.69"/><stop offset="0.4444" stop-color="#000" stop-opacity="0.68"/><stop offset="0.4514" stop-color="#000" stop-opacity="0.66"/><stop offset="0.4583" stop-color="#000" stop-opacity="0.66"/><stop offset="0.4653" stop-color="#000" stop-opacity="0.66"/><stop offset="0.4722" stop-color="#000" stop-opacity="0.66"/><stop offset="0.4792" stop-color="#000" stop-opacity="0.66"/><stop offset="0.4861" stop-color="#000" stop-opacity="0.66"/><stop offset="0.4931" stop-color="#000" stop-opacity="0.62"/><stop offset="0.5000" stop-color="#000" stop-opacity="0.56"/><stop offset="0.5069" stop-color="#000" stop-opacity="0.51"/><stop offset="0.5139" stop-color="#000" stop-opacity="0.50"/><stop offset="0.5208" stop-color="#000" stop-opacity="0.48"/><stop offset="0.5278" stop-color="#000" stop-opacity="0.47"/><stop offset="0.5347" stop-color="#000" stop-opacity="0.47"/><stop offset="0.5417" stop-color="#000" stop-opacity="0.46"/><stop offset="0.5486" stop-color="#000" stop-opacity="0.45"/><stop offset="0.5556" stop-color="#000" stop-opacity="0.45"/><stop offset="0.5625" stop-color="#000" stop-opacity="0.44"/><stop offset="0.5694" stop-color="#000" stop-opacity="0.41"/><stop offset="0.5764" stop-color="#000" stop-opacity="0.37"/><stop offset="0.5833" stop-color="#000" stop-opacity="0.34"/><stop offset="0.5903" stop-color="#000" stop-opacity="0.34"/><stop offset="0.5972" stop-color="#000" stop-opacity="0.35"/><stop offset="0.6042" stop-color="#000" stop-opacity="0.36"/><stop offset="0.6111" stop-color="#000" stop-opacity="0.37"/><stop offset="0.6181" stop-color="#000" stop-opacity="0.35"/><stop offset="0.6250" stop-color="#000" stop-opacity="0.31"/><stop offset="0.6319" stop-color="#000" stop-opacity="0.27"/><stop offset="0.6389" stop-color="#000" stop-opacity="0.25"/><stop offset="0.6458" stop-color="#000" stop-opacity="0.26"/><stop offset="0.6528" stop-color="#000" stop-opacity="0.28"/><stop offset="0.6597" stop-color="#000" stop-opacity="0.29"/><stop offset="0.6667" stop-color="#000" stop-opacity="0.28"/><stop offset="0.6736" stop-color="#000" stop-opacity="0.26"/><stop offset="0.6806" stop-color="#000" stop-opacity="0.24"/><stop offset="0.6875" stop-color="#000" stop-opacity="0.25"/><stop offset="0.6944" stop-color="#000" stop-opacity="0.26"/><stop offset="0.7014" stop-color="#000" stop-opacity="0.28"/><stop offset="0.7083" stop-color="#000" stop-opacity="0.30"/><stop offset="0.7153" stop-color="#000" stop-opacity="0.27"/><stop offset="0.7222" stop-color="#000" stop-opacity="0.22"/><stop offset="0.7292" stop-color="#000" stop-opacity="0.16"/><stop offset="0.7361" stop-color="#000" stop-opacity="0.13"/><stop offset="0.7431" stop-color="#000" stop-opacity="0.10"/><stop offset="0.7500" stop-color="#000" stop-opacity="0.09"/><stop offset="0.7569" stop-color="#000" stop-opacity="0.09"/><stop offset="0.7639" stop-color="#000" stop-opacity="0.09"/><stop offset="0.7708" stop-color="#000" stop-opacity="0.09"/><stop offset="0.7778" stop-color="#000" stop-opacity="0.10"/><stop offset="0.7847" stop-color="#000" stop-opacity="0.11"/><stop offset="0.7917" stop-color="#000" stop-opacity="0.12"/><stop offset="0.7986" stop-color="#000" stop-opacity="0.13"/><stop offset="0.8056" stop-color="#000" stop-opacity="0.13"/><stop offset="0.8125" stop-color="#000" stop-opacity="0.11"/><stop offset="0.8194" stop-color="#000" stop-opacity="0.08"/><stop offset="0.8264" stop-color="#000" stop-opacity="0.06"/><stop offset="0.8333" stop-color="#000" stop-opacity="0.05"/><stop offset="0.8403" stop-color="#000" stop-opacity="0.03"/><stop offset="0.8472" stop-color="#000" stop-opacity="0.03"/><stop offset="0.8542" stop-color="#000" stop-opacity="0.02"/><stop offset="0.8611" stop-color="#000" stop-opacity="0.03"/><stop offset="0.8681" stop-color="#000" stop-opacity="0.04"/><stop offset="0.8750" stop-color="#000" stop-opacity="0.05"/><stop offset="0.8819" stop-color="#000" stop-opacity="0.07"/><stop offset="0.8889" stop-color="#000" stop-opacity="0.10"/><stop offset="0.8958" stop-color="#000" stop-opacity="0.12"/><stop offset="0.9028" stop-color="#000" stop-opacity="0.14"/><stop offset="0.9097" stop-color="#000" stop-opacity="0.15"/><stop offset="0.9167" stop-color="#000" stop-opacity="0.16"/><stop offset="0.9236" stop-color="#000" stop-opacity="0.17"/><stop offset="0.9306" stop-color="#000" stop-opacity="0.16"/><stop offset="0.9375" stop-color="#000" stop-opacity="0.14"/><stop offset="0.9444" stop-color="#000" stop-opacity="0.11"/><stop offset="0.9514" stop-color="#000" stop-opacity="0.08"/><stop offset="0.9583" stop-color="#000" stop-opacity="0.06"/><stop offset="0.9653" stop-color="#000" stop-opacity="0.03"/><stop offset="0.9722" stop-color="#000" stop-opacity="0.01"/><stop offset="0.9792" stop-color="#000" stop-opacity="0.00"/><stop offset="0.9861" stop-color="#000" stop-opacity="0.00"/><stop offset="0.9931" stop-color="#000" stop-opacity="0.00"/><stop offset="1.0000" stop-color="#000" stop-opacity="0.00"/></linearGradient><linearGradient id="cB4" gradientUnits="userSpaceOnUse" x1="0" y1="456" x2="0" y2="673"><stop offset="0.0000" stop-color="#000" stop-opacity="0.18"/><stop offset="0.0069" stop-color="#000" stop-opacity="0.18"/><stop offset="0.0139" stop-color="#000" stop-opacity="0.18"/><stop offset="0.0208" stop-color="#000" stop-opacity="0.18"/><stop offset="0.0278" stop-color="#000" stop-opacity="0.19"/><stop offset="0.0347" stop-color="#000" stop-opacity="0.19"/><stop offset="0.0417" stop-color="#000" stop-opacity="0.19"/><stop offset="0.0486" stop-color="#000" stop-opacity="0.20"/><stop offset="0.0556" stop-color="#000" stop-opacity="0.20"/><stop offset="0.0625" stop-color="#000" stop-opacity="0.20"/><stop offset="0.0694" stop-color="#000" stop-opacity="0.20"/><stop offset="0.0764" stop-color="#000" stop-opacity="0.21"/><stop offset="0.0833" stop-color="#000" stop-opacity="0.22"/><stop offset="0.0903" stop-color="#000" stop-opacity="0.22"/><stop offset="0.0972" stop-color="#000" stop-opacity="0.23"/><stop offset="0.1042" stop-color="#000" stop-opacity="0.23"/><stop offset="0.1111" stop-color="#000" stop-opacity="0.24"/><stop offset="0.1181" stop-color="#000" stop-opacity="0.26"/><stop offset="0.1250" stop-color="#000" stop-opacity="0.28"/><stop offset="0.1319" stop-color="#000" stop-opacity="0.30"/><stop offset="0.1389" stop-color="#000" stop-opacity="0.30"/><stop offset="0.1458" stop-color="#000" stop-opacity="0.31"/><stop offset="0.1528" stop-color="#000" stop-opacity="0.33"/><stop offset="0.1597" stop-color="#000" stop-opacity="0.35"/><stop offset="0.1667" stop-color="#000" stop-opacity="0.38"/><stop offset="0.1736" stop-color="#000" stop-opacity="0.39"/><stop offset="0.1806" stop-color="#000" stop-opacity="0.40"/><stop offset="0.1875" stop-color="#000" stop-opacity="0.40"/><stop offset="0.1944" stop-color="#000" stop-opacity="0.41"/><stop offset="0.2014" stop-color="#000" stop-opacity="0.43"/><stop offset="0.2083" stop-color="#000" stop-opacity="0.44"/><stop offset="0.2153" stop-color="#000" stop-opacity="0.45"/><stop offset="0.2222" stop-color="#000" stop-opacity="0.46"/><stop offset="0.2292" stop-color="#000" stop-opacity="0.46"/><stop offset="0.2361" stop-color="#000" stop-opacity="0.46"/><stop offset="0.2431" stop-color="#000" stop-opacity="0.47"/><stop offset="0.2500" stop-color="#000" stop-opacity="0.48"/><stop offset="0.2569" stop-color="#000" stop-opacity="0.48"/><stop offset="0.2639" stop-color="#000" stop-opacity="0.50"/><stop offset="0.2708" stop-color="#000" stop-opacity="0.54"/><stop offset="0.2778" stop-color="#000" stop-opacity="0.55"/><stop offset="0.2847" stop-color="#000" stop-opacity="0.52"/><stop offset="0.2917" stop-color="#000" stop-opacity="0.49"/><stop offset="0.2986" stop-color="#000" stop-opacity="0.52"/><stop offset="0.3056" stop-color="#000" stop-opacity="0.57"/><stop offset="0.3125" stop-color="#000" stop-opacity="0.57"/><stop offset="0.3194" stop-color="#000" stop-opacity="0.51"/><stop offset="0.3264" stop-color="#000" stop-opacity="0.48"/><stop offset="0.3333" stop-color="#000" stop-opacity="0.53"/><stop offset="0.3403" stop-color="#000" stop-opacity="0.59"/><stop offset="0.3472" stop-color="#000" stop-opacity="0.59"/><stop offset="0.3542" stop-color="#000" stop-opacity="0.53"/><stop offset="0.3611" stop-color="#000" stop-opacity="0.47"/><stop offset="0.3681" stop-color="#000" stop-opacity="0.50"/><stop offset="0.3750" stop-color="#000" stop-opacity="0.58"/><stop offset="0.3819" stop-color="#000" stop-opacity="0.63"/><stop offset="0.3889" stop-color="#000" stop-opacity="0.59"/><stop offset="0.3958" stop-color="#000" stop-opacity="0.50"/><stop offset="0.4028" stop-color="#000" stop-opacity="0.46"/><stop offset="0.4097" stop-color="#000" stop-opacity="0.53"/><stop offset="0.4167" stop-color="#000" stop-opacity="0.62"/><stop offset="0.4236" stop-color="#000" stop-opacity="0.65"/><stop offset="0.4306" stop-color="#000" stop-opacity="0.57"/><stop offset="0.4375" stop-color="#000" stop-opacity="0.47"/><stop offset="0.4444" stop-color="#000" stop-opacity="0.45"/><stop offset="0.4514" stop-color="#000" stop-opacity="0.53"/><stop offset="0.4583" stop-color="#000" stop-opacity="0.63"/><stop offset="0.4653" stop-color="#000" stop-opacity="0.67"/><stop offset="0.4722" stop-color="#000" stop-opacity="0.63"/><stop offset="0.4792" stop-color="#000" stop-opacity="0.54"/><stop offset="0.4861" stop-color="#000" stop-opacity="0.46"/><stop offset="0.4931" stop-color="#000" stop-opacity="0.42"/><stop offset="0.5000" stop-color="#000" stop-opacity="0.48"/><stop offset="0.5069" stop-color="#000" stop-opacity="0.57"/><stop offset="0.5139" stop-color="#000" stop-opacity="0.65"/><stop offset="0.5208" stop-color="#000" stop-opacity="0.68"/><stop offset="0.5278" stop-color="#000" stop-opacity="0.63"/><stop offset="0.5347" stop-color="#000" stop-opacity="0.53"/><stop offset="0.5417" stop-color="#000" stop-opacity="0.42"/><stop offset="0.5486" stop-color="#000" stop-opacity="0.37"/><stop offset="0.5556" stop-color="#000" stop-opacity="0.43"/><stop offset="0.5625" stop-color="#000" stop-opacity="0.53"/><stop offset="0.5694" stop-color="#000" stop-opacity="0.63"/><stop offset="0.5764" stop-color="#000" stop-opacity="0.68"/><stop offset="0.5833" stop-color="#000" stop-opacity="0.65"/><stop offset="0.5903" stop-color="#000" stop-opacity="0.55"/><stop offset="0.5972" stop-color="#000" stop-opacity="0.43"/><stop offset="0.6042" stop-color="#000" stop-opacity="0.34"/><stop offset="0.6111" stop-color="#000" stop-opacity="0.33"/><stop offset="0.6181" stop-color="#000" stop-opacity="0.39"/><stop offset="0.6250" stop-color="#000" stop-opacity="0.49"/><stop offset="0.6319" stop-color="#000" stop-opacity="0.59"/><stop offset="0.6389" stop-color="#000" stop-opacity="0.66"/><stop offset="0.6458" stop-color="#000" stop-opacity="0.68"/><stop offset="0.6528" stop-color="#000" stop-opacity="0.64"/><stop offset="0.6597" stop-color="#000" stop-opacity="0.55"/><stop offset="0.6667" stop-color="#000" stop-opacity="0.43"/><stop offset="0.6736" stop-color="#000" stop-opacity="0.33"/><stop offset="0.6806" stop-color="#000" stop-opacity="0.26"/><stop offset="0.6875" stop-color="#000" stop-opacity="0.27"/><stop offset="0.6944" stop-color="#000" stop-opacity="0.34"/><stop offset="0.7014" stop-color="#000" stop-opacity="0.45"/><stop offset="0.7083" stop-color="#000" stop-opacity="0.56"/><stop offset="0.7153" stop-color="#000" stop-opacity="0.65"/><stop offset="0.7222" stop-color="#000" stop-opacity="0.68"/><stop offset="0.7292" stop-color="#000" stop-opacity="0.66"/><stop offset="0.7361" stop-color="#000" stop-opacity="0.59"/><stop offset="0.7431" stop-color="#000" stop-opacity="0.50"/><stop offset="0.7500" stop-color="#000" stop-opacity="0.39"/><stop offset="0.7569" stop-color="#000" stop-opacity="0.29"/><stop offset="0.7639" stop-color="#000" stop-opacity="0.22"/><stop offset="0.7708" stop-color="#000" stop-opacity="0.21"/><stop offset="0.7778" stop-color="#000" stop-opacity="0.27"/><stop offset="0.7847" stop-color="#000" stop-opacity="0.37"/><stop offset="0.7917" stop-color="#000" stop-opacity="0.49"/><stop offset="0.7986" stop-color="#000" stop-opacity="0.59"/><stop offset="0.8056" stop-color="#000" stop-opacity="0.66"/><stop offset="0.8125" stop-color="#000" stop-opacity="0.68"/><stop offset="0.8194" stop-color="#000" stop-opacity="0.65"/><stop offset="0.8264" stop-color="#000" stop-opacity="0.58"/><stop offset="0.8333" stop-color="#000" stop-opacity="0.49"/><stop offset="0.8403" stop-color="#000" stop-opacity="0.38"/><stop offset="0.8472" stop-color="#000" stop-opacity="0.27"/><stop offset="0.8542" stop-color="#000" stop-opacity="0.18"/><stop offset="0.8611" stop-color="#000" stop-opacity="0.13"/><stop offset="0.8681" stop-color="#000" stop-opacity="0.13"/><stop offset="0.8750" stop-color="#000" stop-opacity="0.17"/><stop offset="0.8819" stop-color="#000" stop-opacity="0.25"/><stop offset="0.8889" stop-color="#000" stop-opacity="0.34"/><stop offset="0.8958" stop-color="#000" stop-opacity="0.44"/><stop offset="0.9028" stop-color="#000" stop-opacity="0.52"/><stop offset="0.9097" stop-color="#000" stop-opacity="0.59"/><stop offset="0.9167" stop-color="#000" stop-opacity="0.63"/><stop offset="0.9236" stop-color="#000" stop-opacity="0.64"/><stop offset="0.9306" stop-color="#000" stop-opacity="0.61"/><stop offset="0.9375" stop-color="#000" stop-opacity="0.56"/><stop offset="0.9444" stop-color="#000" stop-opacity="0.47"/><stop offset="0.9514" stop-color="#000" stop-opacity="0.38"/><stop offset="0.9583" stop-color="#000" stop-opacity="0.28"/><stop offset="0.9653" stop-color="#000" stop-opacity="0.19"/><stop offset="0.9722" stop-color="#000" stop-opacity="0.11"/><stop offset="0.9792" stop-color="#000" stop-opacity="0.07"/><stop offset="0.9861" stop-color="#000" stop-opacity="0.07"/><stop offset="0.9931" stop-color="#000" stop-opacity="0.07"/><stop offset="1.0000" stop-color="#000" stop-opacity="0.07"/></linearGradient><linearGradient id="eB4" gradientUnits="userSpaceOnUse" x1="0" y1="456" x2="0" y2="673"><stop offset="0.0000" stop-color="#000" stop-opacity="0.02"/><stop offset="0.0069" stop-color="#000" stop-opacity="0.03"/><stop offset="0.0139" stop-color="#000" stop-opacity="0.03"/><stop offset="0.0208" stop-color="#000" stop-opacity="0.04"/><stop offset="0.0278" stop-color="#000" stop-opacity="0.04"/><stop offset="0.0347" stop-color="#000" stop-opacity="0.05"/><stop offset="0.0417" stop-color="#000" stop-opacity="0.06"/><stop offset="0.0486" stop-color="#000" stop-opacity="0.07"/><stop offset="0.0556" stop-color="#000" stop-opacity="0.07"/><stop offset="0.0625" stop-color="#000" stop-opacity="0.07"/><stop offset="0.0694" stop-color="#000" stop-opacity="0.08"/><stop offset="0.0764" stop-color="#000" stop-opacity="0.09"/><stop offset="0.0833" stop-color="#000" stop-opacity="0.11"/><stop offset="0.0903" stop-color="#000" stop-opacity="0.13"/><stop offset="0.0972" stop-color="#000" stop-opacity="0.14"/><stop offset="0.1042" stop-color="#000" stop-opacity="0.14"/><stop offset="0.1111" stop-color="#000" stop-opacity="0.16"/><stop offset="0.1181" stop-color="#000" stop-opacity="0.20"/><stop offset="0.1250" stop-color="#000" stop-opacity="0.24"/><stop offset="0.1319" stop-color="#000" stop-opacity="0.27"/><stop offset="0.1389" stop-color="#000" stop-opacity="0.29"/><stop offset="0.1458" stop-color="#000" stop-opacity="0.30"/><stop offset="0.1528" stop-color="#000" stop-opacity="0.34"/><stop offset="0.1597" stop-color="#000" stop-opacity="0.39"/><stop offset="0.1667" stop-color="#000" stop-opacity="0.45"/><stop offset="0.1736" stop-color="#000" stop-opacity="0.49"/><stop offset="0.1806" stop-color="#000" stop-opacity="0.50"/><stop offset="0.1875" stop-color="#000" stop-opacity="0.51"/><stop offset="0.1944" stop-color="#000" stop-opacity="0.54"/><stop offset="0.2014" stop-color="#000" stop-opacity="0.59"/><stop offset="0.2083" stop-color="#000" stop-opacity="0.63"/><stop offset="0.2153" stop-color="#000" stop-opacity="0.68"/><stop offset="0.2222" stop-color="#000" stop-opacity="0.70"/><stop offset="0.2292" stop-color="#000" stop-opacity="0.71"/><stop offset="0.2361" stop-color="#000" stop-opacity="0.73"/><stop offset="0.2431" stop-color="#000" stop-opacity="0.76"/><stop offset="0.2500" stop-color="#000" stop-opacity="0.79"/><stop offset="0.2569" stop-color="#000" stop-opacity="0.81"/><stop offset="0.2639" stop-color="#000" stop-opacity="0.82"/><stop offset="0.2708" stop-color="#000" stop-opacity="0.84"/><stop offset="0.2778" stop-color="#000" stop-opacity="0.84"/><stop offset="0.2847" stop-color="#000" stop-opacity="0.78"/><stop offset="0.2917" stop-color="#000" stop-opacity="0.73"/><stop offset="0.2986" stop-color="#000" stop-opacity="0.76"/><stop offset="0.3056" stop-color="#000" stop-opacity="0.82"/><stop offset="0.3125" stop-color="#000" stop-opacity="0.81"/><stop offset="0.3194" stop-color="#000" stop-opacity="0.71"/><stop offset="0.3264" stop-color="#000" stop-opacity="0.65"/><stop offset="0.3333" stop-color="#000" stop-opacity="0.72"/><stop offset="0.3403" stop-color="#000" stop-opacity="0.81"/><stop offset="0.3472" stop-color="#000" stop-opacity="0.80"/><stop offset="0.3542" stop-color="#000" stop-opacity="0.68"/><stop offset="0.3611" stop-color="#000" stop-opacity="0.59"/><stop offset="0.3681" stop-color="#000" stop-opacity="0.62"/><stop offset="0.3750" stop-color="#000" stop-opacity="0.73"/><stop offset="0.3819" stop-color="#000" stop-opacity="0.81"/><stop offset="0.3889" stop-color="#000" stop-opacity="0.72"/><stop offset="0.3958" stop-color="#000" stop-opacity="0.56"/><stop offset="0.4028" stop-color="#000" stop-opacity="0.50"/><stop offset="0.4097" stop-color="#000" stop-opacity="0.59"/><stop offset="0.4167" stop-color="#000" stop-opacity="0.74"/><stop offset="0.4236" stop-color="#000" stop-opacity="0.79"/><stop offset="0.4306" stop-color="#000" stop-opacity="0.62"/><stop offset="0.4375" stop-color="#000" stop-opacity="0.47"/><stop offset="0.4444" stop-color="#000" stop-opacity="0.44"/><stop offset="0.4514" stop-color="#000" stop-opacity="0.53"/><stop offset="0.4583" stop-color="#000" stop-opacity="0.70"/><stop offset="0.4653" stop-color="#000" stop-opacity="0.79"/><stop offset="0.4722" stop-color="#000" stop-opacity="0.67"/><stop offset="0.4792" stop-color="#000" stop-opacity="0.50"/><stop offset="0.4861" stop-color="#000" stop-opacity="0.38"/><stop offset="0.4931" stop-color="#000" stop-opacity="0.35"/><stop offset="0.5000" stop-color="#000" stop-opacity="0.40"/><stop offset="0.5069" stop-color="#000" stop-opacity="0.53"/><stop offset="0.5139" stop-color="#000" stop-opacity="0.70"/><stop offset="0.5208" stop-color="#000" stop-opacity="0.78"/><stop offset="0.5278" stop-color="#000" stop-opacity="0.64"/><stop offset="0.5347" stop-color="#000" stop-opacity="0.43"/><stop offset="0.5417" stop-color="#000" stop-opacity="0.29"/><stop offset="0.5486" stop-color="#000" stop-opacity="0.24"/><stop offset="0.5556" stop-color="#000" stop-opacity="0.29"/><stop offset="0.5625" stop-color="#000" stop-opacity="0.43"/><stop offset="0.5694" stop-color="#000" stop-opacity="0.64"/><stop offset="0.5764" stop-color="#000" stop-opacity="0.78"/><stop offset="0.5833" stop-color="#000" stop-opacity="0.67"/><stop offset="0.5903" stop-color="#000" stop-opacity="0.44"/><stop offset="0.5972" stop-color="#000" stop-opacity="0.26"/><stop offset="0.6042" stop-color="#000" stop-opacity="0.16"/><stop offset="0.6111" stop-color="#000" stop-opacity="0.15"/><stop offset="0.6181" stop-color="#000" stop-opacity="0.22"/><stop offset="0.6250" stop-color="#000" stop-opacity="0.34"/><stop offset="0.6319" stop-color="#000" stop-opacity="0.53"/><stop offset="0.6389" stop-color="#000" stop-opacity="0.72"/><stop offset="0.6458" stop-color="#000" stop-opacity="0.78"/><stop offset="0.6528" stop-color="#000" stop-opacity="0.63"/><stop offset="0.6597" stop-color="#000" stop-opacity="0.41"/><stop offset="0.6667" stop-color="#000" stop-opacity="0.24"/><stop offset="0.6736" stop-color="#000" stop-opacity="0.13"/><stop offset="0.6806" stop-color="#000" stop-opacity="0.07"/><stop offset="0.6875" stop-color="#000" stop-opacity="0.08"/><stop offset="0.6944" stop-color="#000" stop-opacity="0.14"/><stop offset="0.7014" stop-color="#000" stop-opacity="0.26"/><stop offset="0.7083" stop-color="#000" stop-opacity="0.43"/><stop offset="0.7153" stop-color="#000" stop-opacity="0.64"/><stop offset="0.7222" stop-color="#000" stop-opacity="0.75"/><stop offset="0.7292" stop-color="#000" stop-opacity="0.67"/><stop offset="0.7361" stop-color="#000" stop-opacity="0.49"/><stop offset="0.7431" stop-color="#000" stop-opacity="0.31"/><stop offset="0.7500" stop-color="#000" stop-opacity="0.17"/><stop offset="0.7569" stop-color="#000" stop-opacity="0.08"/><stop offset="0.7639" stop-color="#000" stop-opacity="0.04"/><stop offset="0.7708" stop-color="#000" stop-opacity="0.03"/><stop offset="0.7778" stop-color="#000" stop-opacity="0.06"/><stop offset="0.7847" stop-color="#000" stop-opacity="0.13"/><stop offset="0.7917" stop-color="#000" stop-opacity="0.25"/><stop offset="0.7986" stop-color="#000" stop-opacity="0.41"/><stop offset="0.8056" stop-color="#000" stop-opacity="0.57"/><stop offset="0.8125" stop-color="#000" stop-opacity="0.62"/><stop offset="0.8194" stop-color="#000" stop-opacity="0.54"/><stop offset="0.8264" stop-color="#000" stop-opacity="0.40"/><stop offset="0.8333" stop-color="#000" stop-opacity="0.26"/><stop offset="0.8403" stop-color="#000" stop-opacity="0.16"/><stop offset="0.8472" stop-color="#000" stop-opacity="0.09"/><stop offset="0.8542" stop-color="#000" stop-opacity="0.04"/><stop offset="0.8611" stop-color="#000" stop-opacity="0.01"/><stop offset="0.8681" stop-color="#000" stop-opacity="0.01"/><stop offset="0.8750" stop-color="#000" stop-opacity="0.02"/><stop offset="0.8819" stop-color="#000" stop-opacity="0.04"/><stop offset="0.8889" stop-color="#000" stop-opacity="0.06"/><stop offset="0.8958" stop-color="#000" stop-opacity="0.09"/><stop offset="0.9028" stop-color="#000" stop-opacity="0.13"/><stop offset="0.9097" stop-color="#000" stop-opacity="0.18"/><stop offset="0.9167" stop-color="#000" stop-opacity="0.21"/><stop offset="0.9236" stop-color="#000" stop-opacity="0.22"/><stop offset="0.9306" stop-color="#000" stop-opacity="0.20"/><stop offset="0.9375" stop-color="#000" stop-opacity="0.15"/><stop offset="0.9444" stop-color="#000" stop-opacity="0.11"/><stop offset="0.9514" stop-color="#000" stop-opacity="0.07"/><stop offset="0.9583" stop-color="#000" stop-opacity="0.04"/><stop offset="0.9653" stop-color="#000" stop-opacity="0.02"/><stop offset="0.9722" stop-color="#000" stop-opacity="0.01"/><stop offset="0.9792" stop-color="#000" stop-opacity="0.00"/><stop offset="0.9861" stop-color="#000" stop-opacity="0.00"/><stop offset="0.9931" stop-color="#000" stop-opacity="0.00"/><stop offset="1.0000" stop-color="#000" stop-opacity="0.00"/></linearGradient><linearGradient id="cNP2" gradientUnits="userSpaceOnUse" x1="0" y1="456" x2="0" y2="673"><stop offset="0.0000" stop-color="#000" stop-opacity="0.20"/><stop offset="0.0069" stop-color="#000" stop-opacity="0.20"/><stop offset="0.0139" stop-color="#000" stop-opacity="0.21"/><stop offset="0.0208" stop-color="#000" stop-opacity="0.22"/><stop offset="0.0278" stop-color="#000" stop-opacity="0.23"/><stop offset="0.0347" stop-color="#000" stop-opacity="0.24"/><stop offset="0.0417" stop-color="#000" stop-opacity="0.24"/><stop offset="0.0486" stop-color="#000" stop-opacity="0.24"/><stop offset="0.0556" stop-color="#000" stop-opacity="0.26"/><stop offset="0.0625" stop-color="#000" stop-opacity="0.27"/><stop offset="0.0694" stop-color="#000" stop-opacity="0.29"/><stop offset="0.0764" stop-color="#000" stop-opacity="0.31"/><stop offset="0.0833" stop-color="#000" stop-opacity="0.32"/><stop offset="0.0903" stop-color="#000" stop-opacity="0.32"/><stop offset="0.0972" stop-color="#000" stop-opacity="0.33"/><stop offset="0.1042" stop-color="#000" stop-opacity="0.35"/><stop offset="0.1111" stop-color="#000" stop-opacity="0.38"/><stop offset="0.1181" stop-color="#000" stop-opacity="0.40"/><stop offset="0.1250" stop-color="#000" stop-opacity="0.42"/><stop offset="0.1319" stop-color="#000" stop-opacity="0.42"/><stop offset="0.1389" stop-color="#000" stop-opacity="0.43"/><stop offset="0.1458" stop-color="#000" stop-opacity="0.44"/><stop offset="0.1528" stop-color="#000" stop-opacity="0.46"/><stop offset="0.1597" stop-color="#000" stop-opacity="0.47"/><stop offset="0.1667" stop-color="#000" stop-opacity="0.49"/><stop offset="0.1736" stop-color="#000" stop-opacity="0.50"/><stop offset="0.1806" stop-color="#000" stop-opacity="0.50"/><stop offset="0.1875" stop-color="#000" stop-opacity="0.50"/><stop offset="0.1944" stop-color="#000" stop-opacity="0.50"/><stop offset="0.2014" stop-color="#000" stop-opacity="0.51"/><stop offset="0.2083" stop-color="#000" stop-opacity="0.51"/><stop offset="0.2153" stop-color="#000" stop-opacity="0.52"/><stop offset="0.2222" stop-color="#000" stop-opacity="0.52"/><stop offset="0.2292" stop-color="#000" stop-opacity="0.52"/><stop offset="0.2361" stop-color="#000" stop-opacity="0.53"/><stop offset="0.2431" stop-color="#000" stop-opacity="0.53"/><stop offset="0.2500" stop-color="#000" stop-opacity="0.53"/><stop offset="0.2569" stop-color="#000" stop-opacity="0.53"/><stop offset="0.2639" stop-color="#000" stop-opacity="0.53"/><stop offset="0.2708" stop-color="#000" stop-opacity="0.53"/><stop offset="0.2778" stop-color="#000" stop-opacity="0.53"/><stop offset="0.2847" stop-color="#000" stop-opacity="0.53"/><stop offset="0.2917" stop-color="#000" stop-opacity="0.53"/><stop offset="0.2986" stop-color="#000" stop-opacity="0.53"/><stop offset="0.3056" stop-color="#000" stop-opacity="0.53"/><stop offset="0.3125" stop-color="#000" stop-opacity="0.53"/><stop offset="0.3194" stop-color="#000" stop-opacity="0.53"/><stop offset="0.3264" stop-color="#000" stop-opacity="0.53"/><stop offset="0.3333" stop-color="#000" stop-opacity="0.53"/><stop offset="0.3403" stop-color="#000" stop-opacity="0.53"/><stop offset="0.3472" stop-color="#000" stop-opacity="0.53"/><stop offset="0.3542" stop-color="#000" stop-opacity="0.53"/><stop offset="0.3611" stop-color="#000" stop-opacity="0.55"/><stop offset="0.3681" stop-color="#000" stop-opacity="0.58"/><stop offset="0.3750" stop-color="#000" stop-opacity="0.60"/><stop offset="0.3819" stop-color="#000" stop-opacity="0.59"/><stop offset="0.3889" stop-color="#000" stop-opacity="0.56"/><stop offset="0.3958" stop-color="#000" stop-opacity="0.53"/><stop offset="0.4028" stop-color="#000" stop-opacity="0.53"/><stop offset="0.4097" stop-color="#000" stop-opacity="0.57"/><stop offset="0.4167" stop-color="#000" stop-opacity="0.61"/><stop offset="0.4236" stop-color="#000" stop-opacity="0.62"/><stop offset="0.4306" stop-color="#000" stop-opacity="0.59"/><stop offset="0.4375" stop-color="#000" stop-opacity="0.54"/><stop offset="0.4444" stop-color="#000" stop-opacity="0.50"/><stop offset="0.4514" stop-color="#000" stop-opacity="0.54"/><stop offset="0.4583" stop-color="#000" stop-opacity="0.61"/><stop offset="0.4653" stop-color="#000" stop-opacity="0.65"/><stop offset="0.4722" stop-color="#000" stop-opacity="0.64"/><stop offset="0.4792" stop-color="#000" stop-opacity="0.57"/><stop offset="0.4861" stop-color="#000" stop-opacity="0.49"/><stop offset="0.4931" stop-color="#000" stop-opacity="0.49"/><stop offset="0.5000" stop-color="#000" stop-opacity="0.59"/><stop offset="0.5069" stop-color="#000" stop-opacity="0.70"/><stop offset="0.5139" stop-color="#000" stop-opacity="0.73"/><stop offset="0.5208" stop-color="#000" stop-opacity="0.67"/><stop offset="0.5278" stop-color="#000" stop-opacity="0.56"/><stop offset="0.5347" stop-color="#000" stop-opacity="0.47"/><stop offset="0.5417" stop-color="#000" stop-opacity="0.53"/><stop offset="0.5486" stop-color="#000" stop-opacity="0.64"/><stop offset="0.5556" stop-color="#000" stop-opacity="0.72"/><stop offset="0.5625" stop-color="#000" stop-opacity="0.72"/><stop offset="0.5694" stop-color="#000" stop-opacity="0.67"/><stop offset="0.5764" stop-color="#000" stop-opacity="0.58"/><stop offset="0.5833" stop-color="#000" stop-opacity="0.48"/><stop offset="0.5903" stop-color="#000" stop-opacity="0.41"/><stop offset="0.5972" stop-color="#000" stop-opacity="0.42"/><stop offset="0.6042" stop-color="#000" stop-opacity="0.49"/><stop offset="0.6111" stop-color="#000" stop-opacity="0.57"/><stop offset="0.6181" stop-color="#000" stop-opacity="0.64"/><stop offset="0.6250" stop-color="#000" stop-opacity="0.67"/><stop offset="0.6319" stop-color="#000" stop-opacity="0.66"/><stop offset="0.6389" stop-color="#000" stop-opacity="0.61"/><stop offset="0.6458" stop-color="#000" stop-opacity="0.52"/><stop offset="0.6528" stop-color="#000" stop-opacity="0.42"/><stop offset="0.6597" stop-color="#000" stop-opacity="0.33"/><stop offset="0.6667" stop-color="#000" stop-opacity="0.27"/><stop offset="0.6736" stop-color="#000" stop-opacity="0.29"/><stop offset="0.6806" stop-color="#000" stop-opacity="0.35"/><stop offset="0.6875" stop-color="#000" stop-opacity="0.41"/><stop offset="0.6944" stop-color="#000" stop-opacity="0.47"/><stop offset="0.7014" stop-color="#000" stop-opacity="0.52"/><stop offset="0.7083" stop-color="#000" stop-opacity="0.53"/><stop offset="0.7153" stop-color="#000" stop-opacity="0.51"/><stop offset="0.7222" stop-color="#000" stop-opacity="0.46"/><stop offset="0.7292" stop-color="#000" stop-opacity="0.38"/><stop offset="0.7361" stop-color="#000" stop-opacity="0.29"/><stop offset="0.7431" stop-color="#000" stop-opacity="0.21"/><stop offset="0.7500" stop-color="#000" stop-opacity="0.15"/><stop offset="0.7569" stop-color="#000" stop-opacity="0.15"/><stop offset="0.7639" stop-color="#000" stop-opacity="0.18"/><stop offset="0.7708" stop-color="#000" stop-opacity="0.22"/><stop offset="0.7778" stop-color="#000" stop-opacity="0.27"/><stop offset="0.7847" stop-color="#000" stop-opacity="0.30"/><stop offset="0.7917" stop-color="#000" stop-opacity="0.32"/><stop offset="0.7986" stop-color="#000" stop-opacity="0.33"/><stop offset="0.8056" stop-color="#000" stop-opacity="0.32"/><stop offset="0.8125" stop-color="#000" stop-opacity="0.30"/><stop offset="0.8194" stop-color="#000" stop-opacity="0.26"/><stop offset="0.8264" stop-color="#000" stop-opacity="0.22"/><stop offset="0.8333" stop-color="#000" stop-opacity="0.18"/><stop offset="0.8403" stop-color="#000" stop-opacity="0.14"/><stop offset="0.8472" stop-color="#000" stop-opacity="0.10"/><stop offset="0.8542" stop-color="#000" stop-opacity="0.08"/><stop offset="0.8611" stop-color="#000" stop-opacity="0.08"/><stop offset="0.8681" stop-color="#000" stop-opacity="0.09"/><stop offset="0.8750" stop-color="#000" stop-opacity="0.10"/><stop offset="0.8819" stop-color="#000" stop-opacity="0.11"/><stop offset="0.8889" stop-color="#000" stop-opacity="0.12"/><stop offset="0.8958" stop-color="#000" stop-opacity="0.13"/><stop offset="0.9028" stop-color="#000" stop-opacity="0.14"/><stop offset="0.9097" stop-color="#000" stop-opacity="0.14"/><stop offset="0.9167" stop-color="#000" stop-opacity="0.14"/><stop offset="0.9236" stop-color="#000" stop-opacity="0.14"/><stop offset="0.9306" stop-color="#000" stop-opacity="0.13"/><stop offset="0.9375" stop-color="#000" stop-opacity="0.12"/><stop offset="0.9444" stop-color="#000" stop-opacity="0.11"/><stop offset="0.9514" stop-color="#000" stop-opacity="0.10"/><stop offset="0.9583" stop-color="#000" stop-opacity="0.09"/><stop offset="0.9653" stop-color="#000" stop-opacity="0.08"/><stop offset="0.9722" stop-color="#000" stop-opacity="0.07"/><stop offset="0.9792" stop-color="#000" stop-opacity="0.06"/><stop offset="0.9861" stop-color="#000" stop-opacity="0.06"/><stop offset="0.9931" stop-color="#000" stop-opacity="0.06"/><stop offset="1.0000" stop-color="#000" stop-opacity="0.06"/></linearGradient><linearGradient id="eNP2" gradientUnits="userSpaceOnUse" x1="0" y1="456" x2="0" y2="673"><stop offset="0.0000" stop-color="#000" stop-opacity="0.05"/><stop offset="0.0069" stop-color="#000" stop-opacity="0.06"/><stop offset="0.0139" stop-color="#000" stop-opacity="0.08"/><stop offset="0.0208" stop-color="#000" stop-opacity="0.10"/><stop offset="0.0278" stop-color="#000" stop-opacity="0.13"/><stop offset="0.0347" stop-color="#000" stop-opacity="0.15"/><stop offset="0.0417" stop-color="#000" stop-opacity="0.16"/><stop offset="0.0486" stop-color="#000" stop-opacity="0.18"/><stop offset="0.0556" stop-color="#000" stop-opacity="0.22"/><stop offset="0.0625" stop-color="#000" stop-opacity="0.30"/><stop offset="0.0694" stop-color="#000" stop-opacity="0.38"/><stop offset="0.0764" stop-color="#000" stop-opacity="0.45"/><stop offset="0.0833" stop-color="#000" stop-opacity="0.49"/><stop offset="0.0903" stop-color="#000" stop-opacity="0.50"/><stop offset="0.0972" stop-color="#000" stop-opacity="0.52"/><stop offset="0.1042" stop-color="#000" stop-opacity="0.57"/><stop offset="0.1111" stop-color="#000" stop-opacity="0.63"/><stop offset="0.1181" stop-color="#000" stop-opacity="0.68"/><stop offset="0.1250" stop-color="#000" stop-opacity="0.72"/><stop offset="0.1319" stop-color="#000" stop-opacity="0.72"/><stop offset="0.1389" stop-color="#000" stop-opacity="0.73"/><stop offset="0.1458" stop-color="#000" stop-opacity="0.73"/><stop offset="0.1528" stop-color="#000" stop-opacity="0.73"/><stop offset="0.1597" stop-color="#000" stop-opacity="0.73"/><stop offset="0.1667" stop-color="#000" stop-opacity="0.74"/><stop offset="0.1736" stop-color="#000" stop-opacity="0.74"/><stop offset="0.1806" stop-color="#000" stop-opacity="0.74"/><stop offset="0.1875" stop-color="#000" stop-opacity="0.74"/><stop offset="0.1944" stop-color="#000" stop-opacity="0.74"/><stop offset="0.2014" stop-color="#000" stop-opacity="0.74"/><stop offset="0.2083" stop-color="#000" stop-opacity="0.73"/><stop offset="0.2153" stop-color="#000" stop-opacity="0.73"/><stop offset="0.2222" stop-color="#000" stop-opacity="0.73"/><stop offset="0.2292" stop-color="#000" stop-opacity="0.73"/><stop offset="0.2361" stop-color="#000" stop-opacity="0.72"/><stop offset="0.2431" stop-color="#000" stop-opacity="0.72"/><stop offset="0.2500" stop-color="#000" stop-opacity="0.72"/><stop offset="0.2569" stop-color="#000" stop-opacity="0.72"/><stop offset="0.2639" stop-color="#000" stop-opacity="0.72"/><stop offset="0.2708" stop-color="#000" stop-opacity="0.72"/><stop offset="0.2778" stop-color="#000" stop-opacity="0.72"/><stop offset="0.2847" stop-color="#000" stop-opacity="0.72"/><stop offset="0.2917" stop-color="#000" stop-opacity="0.72"/><stop offset="0.2986" stop-color="#000" stop-opacity="0.72"/><stop offset="0.3056" stop-color="#000" stop-opacity="0.72"/><stop offset="0.3125" stop-color="#000" stop-opacity="0.72"/><stop offset="0.3194" stop-color="#000" stop-opacity="0.72"/><stop offset="0.3264" stop-color="#000" stop-opacity="0.72"/><stop offset="0.3333" stop-color="#000" stop-opacity="0.72"/><stop offset="0.3403" stop-color="#000" stop-opacity="0.69"/><stop offset="0.3472" stop-color="#000" stop-opacity="0.62"/><stop offset="0.3542" stop-color="#000" stop-opacity="0.58"/><stop offset="0.3611" stop-color="#000" stop-opacity="0.60"/><stop offset="0.3681" stop-color="#000" stop-opacity="0.64"/><stop offset="0.3750" stop-color="#000" stop-opacity="0.67"/><stop offset="0.3819" stop-color="#000" stop-opacity="0.66"/><stop offset="0.3889" stop-color="#000" stop-opacity="0.61"/><stop offset="0.3958" stop-color="#000" stop-opacity="0.56"/><stop offset="0.4028" stop-color="#000" stop-opacity="0.55"/><stop offset="0.4097" stop-color="#000" stop-opacity="0.59"/><stop offset="0.4167" stop-color="#000" stop-opacity="0.64"/><stop offset="0.4236" stop-color="#000" stop-opacity="0.65"/><stop offset="0.4306" stop-color="#000" stop-opacity="0.61"/><stop offset="0.4375" stop-color="#000" stop-opacity="0.54"/><stop offset="0.4444" stop-color="#000" stop-opacity="0.50"/><stop offset="0.4514" stop-color="#000" stop-opacity="0.53"/><stop offset="0.4583" stop-color="#000" stop-opacity="0.58"/><stop offset="0.4653" stop-color="#000" stop-opacity="0.62"/><stop offset="0.4722" stop-color="#000" stop-opacity="0.61"/><stop offset="0.4792" stop-color="#000" stop-opacity="0.52"/><stop offset="0.4861" stop-color="#000" stop-opacity="0.45"/><stop offset="0.4931" stop-color="#000" stop-opacity="0.43"/><stop offset="0.5000" stop-color="#000" stop-opacity="0.44"/><stop offset="0.5069" stop-color="#000" stop-opacity="0.44"/><stop offset="0.5139" stop-color="#000" stop-opacity="0.44"/><stop offset="0.5208" stop-color="#000" stop-opacity="0.39"/><stop offset="0.5278" stop-color="#000" stop-opacity="0.32"/><stop offset="0.5347" stop-color="#000" stop-opacity="0.28"/><stop offset="0.5417" stop-color="#000" stop-opacity="0.28"/><stop offset="0.5486" stop-color="#000" stop-opacity="0.27"/><stop offset="0.5556" stop-color="#000" stop-opacity="0.26"/><stop offset="0.5625" stop-color="#000" stop-opacity="0.25"/><stop offset="0.5694" stop-color="#000" stop-opacity="0.23"/><stop offset="0.5764" stop-color="#000" stop-opacity="0.20"/><stop offset="0.5833" stop-color="#000" stop-opacity="0.18"/><stop offset="0.5903" stop-color="#000" stop-opacity="0.17"/><stop offset="0.5972" stop-color="#000" stop-opacity="0.17"/><stop offset="0.6042" stop-color="#000" stop-opacity="0.16"/><stop offset="0.6111" stop-color="#000" stop-opacity="0.16"/><stop offset="0.6181" stop-color="#000" stop-opacity="0.15"/><stop offset="0.6250" stop-color="#000" stop-opacity="0.15"/><stop offset="0.6319" stop-color="#000" stop-opacity="0.14"/><stop offset="0.6389" stop-color="#000" stop-opacity="0.12"/><stop offset="0.6458" stop-color="#000" stop-opacity="0.09"/><stop offset="0.6528" stop-color="#000" stop-opacity="0.07"/><stop offset="0.6597" stop-color="#000" stop-opacity="0.05"/><stop offset="0.6667" stop-color="#000" stop-opacity="0.04"/><stop offset="0.6736" stop-color="#000" stop-opacity="0.04"/><stop offset="0.6806" stop-color="#000" stop-opacity="0.04"/><stop offset="0.6875" stop-color="#000" stop-opacity="0.04"/><stop offset="0.6944" stop-color="#000" stop-opacity="0.04"/><stop offset="0.7014" stop-color="#000" stop-opacity="0.04"/><stop offset="0.7083" stop-color="#000" stop-opacity="0.04"/><stop offset="0.7153" stop-color="#000" stop-opacity="0.04"/><stop offset="0.7222" stop-color="#000" stop-opacity="0.03"/><stop offset="0.7292" stop-color="#000" stop-opacity="0.03"/><stop offset="0.7361" stop-color="#000" stop-opacity="0.02"/><stop offset="0.7431" stop-color="#000" stop-opacity="0.01"/><stop offset="0.7500" stop-color="#000" stop-opacity="0.01"/><stop offset="0.7569" stop-color="#000" stop-opacity="0.01"/><stop offset="0.7639" stop-color="#000" stop-opacity="0.01"/><stop offset="0.7708" stop-color="#000" stop-opacity="0.01"/><stop offset="0.7778" stop-color="#000" stop-opacity="0.00"/><stop offset="0.7847" stop-color="#000" stop-opacity="0.00"/><stop offset="0.7917" stop-color="#000" stop-opacity="0.00"/><stop offset="0.7986" stop-color="#000" stop-opacity="0.00"/><stop offset="0.8056" stop-color="#000" stop-opacity="0.00"/><stop offset="0.8125" stop-color="#000" stop-opacity="0.00"/><stop offset="0.8194" stop-color="#000" stop-opacity="0.00"/><stop offset="0.8264" stop-color="#000" stop-opacity="0.00"/><stop offset="0.8333" stop-color="#000" stop-opacity="0.00"/><stop offset="0.8403" stop-color="#000" stop-opacity="0.00"/><stop offset="0.8472" stop-color="#000" stop-opacity="0.00"/><stop offset="0.8542" stop-color="#000" stop-opacity="0.00"/><stop offset="0.8611" stop-color="#000" stop-opacity="0.00"/><stop offset="0.8681" stop-color="#000" stop-opacity="0.00"/><stop offset="0.8750" stop-color="#000" stop-opacity="0.00"/><stop offset="0.8819" stop-color="#000" stop-opacity="0.00"/><stop offset="0.8889" stop-color="#000" stop-opacity="0.00"/><stop offset="0.8958" stop-color="#000" stop-opacity="0.00"/><stop offset="0.9028" stop-color="#000" stop-opacity="0.00"/><stop offset="0.9097" stop-color="#000" stop-opacity="0.00"/><stop offset="0.9167" stop-color="#000" stop-opacity="0.00"/><stop offset="0.9236" stop-color="#000" stop-opacity="0.00"/><stop offset="0.9306" stop-color="#000" stop-opacity="0.00"/><stop offset="0.9375" stop-color="#000" stop-opacity="0.00"/><stop offset="0.9444" stop-color="#000" stop-opacity="0.00"/><stop offset="0.9514" stop-color="#000" stop-opacity="0.00"/><stop offset="0.9583" stop-color="#000" stop-opacity="0.00"/><stop offset="0.9653" stop-color="#000" stop-opacity="0.00"/><stop offset="0.9722" stop-color="#000" stop-opacity="0.00"/><stop offset="0.9792" stop-color="#000" stop-opacity="0.00"/><stop offset="0.9861" stop-color="#000" stop-opacity="0.00"/><stop offset="0.9931" stop-color="#000" stop-opacity="0.00"/><stop offset="1.0000" stop-color="#000" stop-opacity="0.00"/></linearGradient></defs>
<g clip-path="url(#gclip)">
<rect x="22" y="450" width="190" height="221" fill="#efefef" filter="url(#gbg)"/>
<g filter="url(#gb)">
<polygon points="25.3,456 45.3,456 44.5,545 44.5,673 26.0,673 26.0,545" fill="url(#cNP1)"/>
<polygon points="25.3,456 29.8,456 30.5,545 30.5,673 26.0,673 26.0,545" fill="url(#eNP1)"/>
<polygon points="40.8,456 45.3,456 44.5,545 44.5,673 40.0,673 40.0,545" fill="url(#eNP1)"/>
<polygon points="54.6,456 78.6,456 77.8,545 77.8,673 55.3,673 55.3,545" fill="url(#cB1)"/>
<polygon points="54.6,456 62.1,456 62.8,545 62.8,673 55.3,673 55.3,545" fill="url(#eB1)"/>
<polygon points="71.1,456 78.6,456 77.8,545 77.8,673 70.3,673 70.3,545" fill="url(#eB1)"/>
<polygon points="88.2,456 112.2,456 111.0,545 110.2,673 87.8,673 88.5,545" fill="url(#cB2)"/>
<polygon points="88.2,456 95.2,456 95.5,545 94.8,673 87.8,673 88.5,545" fill="url(#eB2)"/>
<polygon points="105.2,456 112.2,456 111.0,545 110.2,673 103.2,673 104.0,545" fill="url(#eB2)"/>
<polygon points="118.5,456 141.5,456 140.8,545 140.8,673 119.2,673 119.2,545" fill="url(#cB3)"/>
<polygon points="118.5,456 124.5,456 125.2,545 125.2,673 119.2,673 119.2,545" fill="url(#eB3)"/>
<polygon points="135.5,456 141.5,456 140.8,545 140.8,673 134.8,673 134.8,545" fill="url(#eB3)"/>
<polygon points="151.0,456 172.0,456 171.7,545 172.3,673 152.8,673 152.2,545" fill="url(#cB4)"/>
<polygon points="151.0,456 156.5,456 157.7,545 158.3,673 152.8,673 152.2,545" fill="url(#eB4)"/>
<polygon points="166.5,456 172.0,456 171.7,545 172.3,673 166.8,673 166.2,545" fill="url(#eB4)"/>
<polygon points="183.1,456 204.1,456 202.0,545 200.1,673 180.6,673 182.5,545" fill="url(#cNP2)"/>
<polygon points="183.1,456 188.1,456 187.5,545 185.6,673 180.6,673 182.5,545" fill="url(#eNP2)"/>
<polygon points="199.1,456 204.1,456 202.0,545 200.1,673 195.1,673 197.0,545" fill="url(#eNP2)"/>
</g>
</g>
<rect x="18.7" y="430.2" width="195" height="25.2" fill="#fff" stroke="#444" stroke-width="1.1" />
<text x="36.4" y="447.7" font-family="Liberation Serif, serif" font-size="16.8" font-weight="bold" text-anchor="middle" fill="#000" letter-spacing="0.8">NP</text>
<text x="69" y="447.7" font-family="Liberation Serif, serif" font-size="16.8" font-weight="bold" text-anchor="middle" fill="#000" >B1</text>
<text x="100.1" y="447.7" font-family="Liberation Serif, serif" font-size="16.8" font-weight="bold" text-anchor="middle" fill="#000" >B2</text>
<text x="130.5" y="447.7" font-family="Liberation Serif, serif" font-size="16.8" font-weight="bold" text-anchor="middle" fill="#000" >B3</text>
<text x="164" y="447.7" font-family="Liberation Serif, serif" font-size="16.8" font-weight="bold" text-anchor="middle" fill="#000" >B4</text>
<text x="198.3" y="447.7" font-family="Liberation Serif, serif" font-size="16.8" font-weight="bold" text-anchor="middle" fill="#000" letter-spacing="0.8">NP</text>
</svg>
</body></html>
